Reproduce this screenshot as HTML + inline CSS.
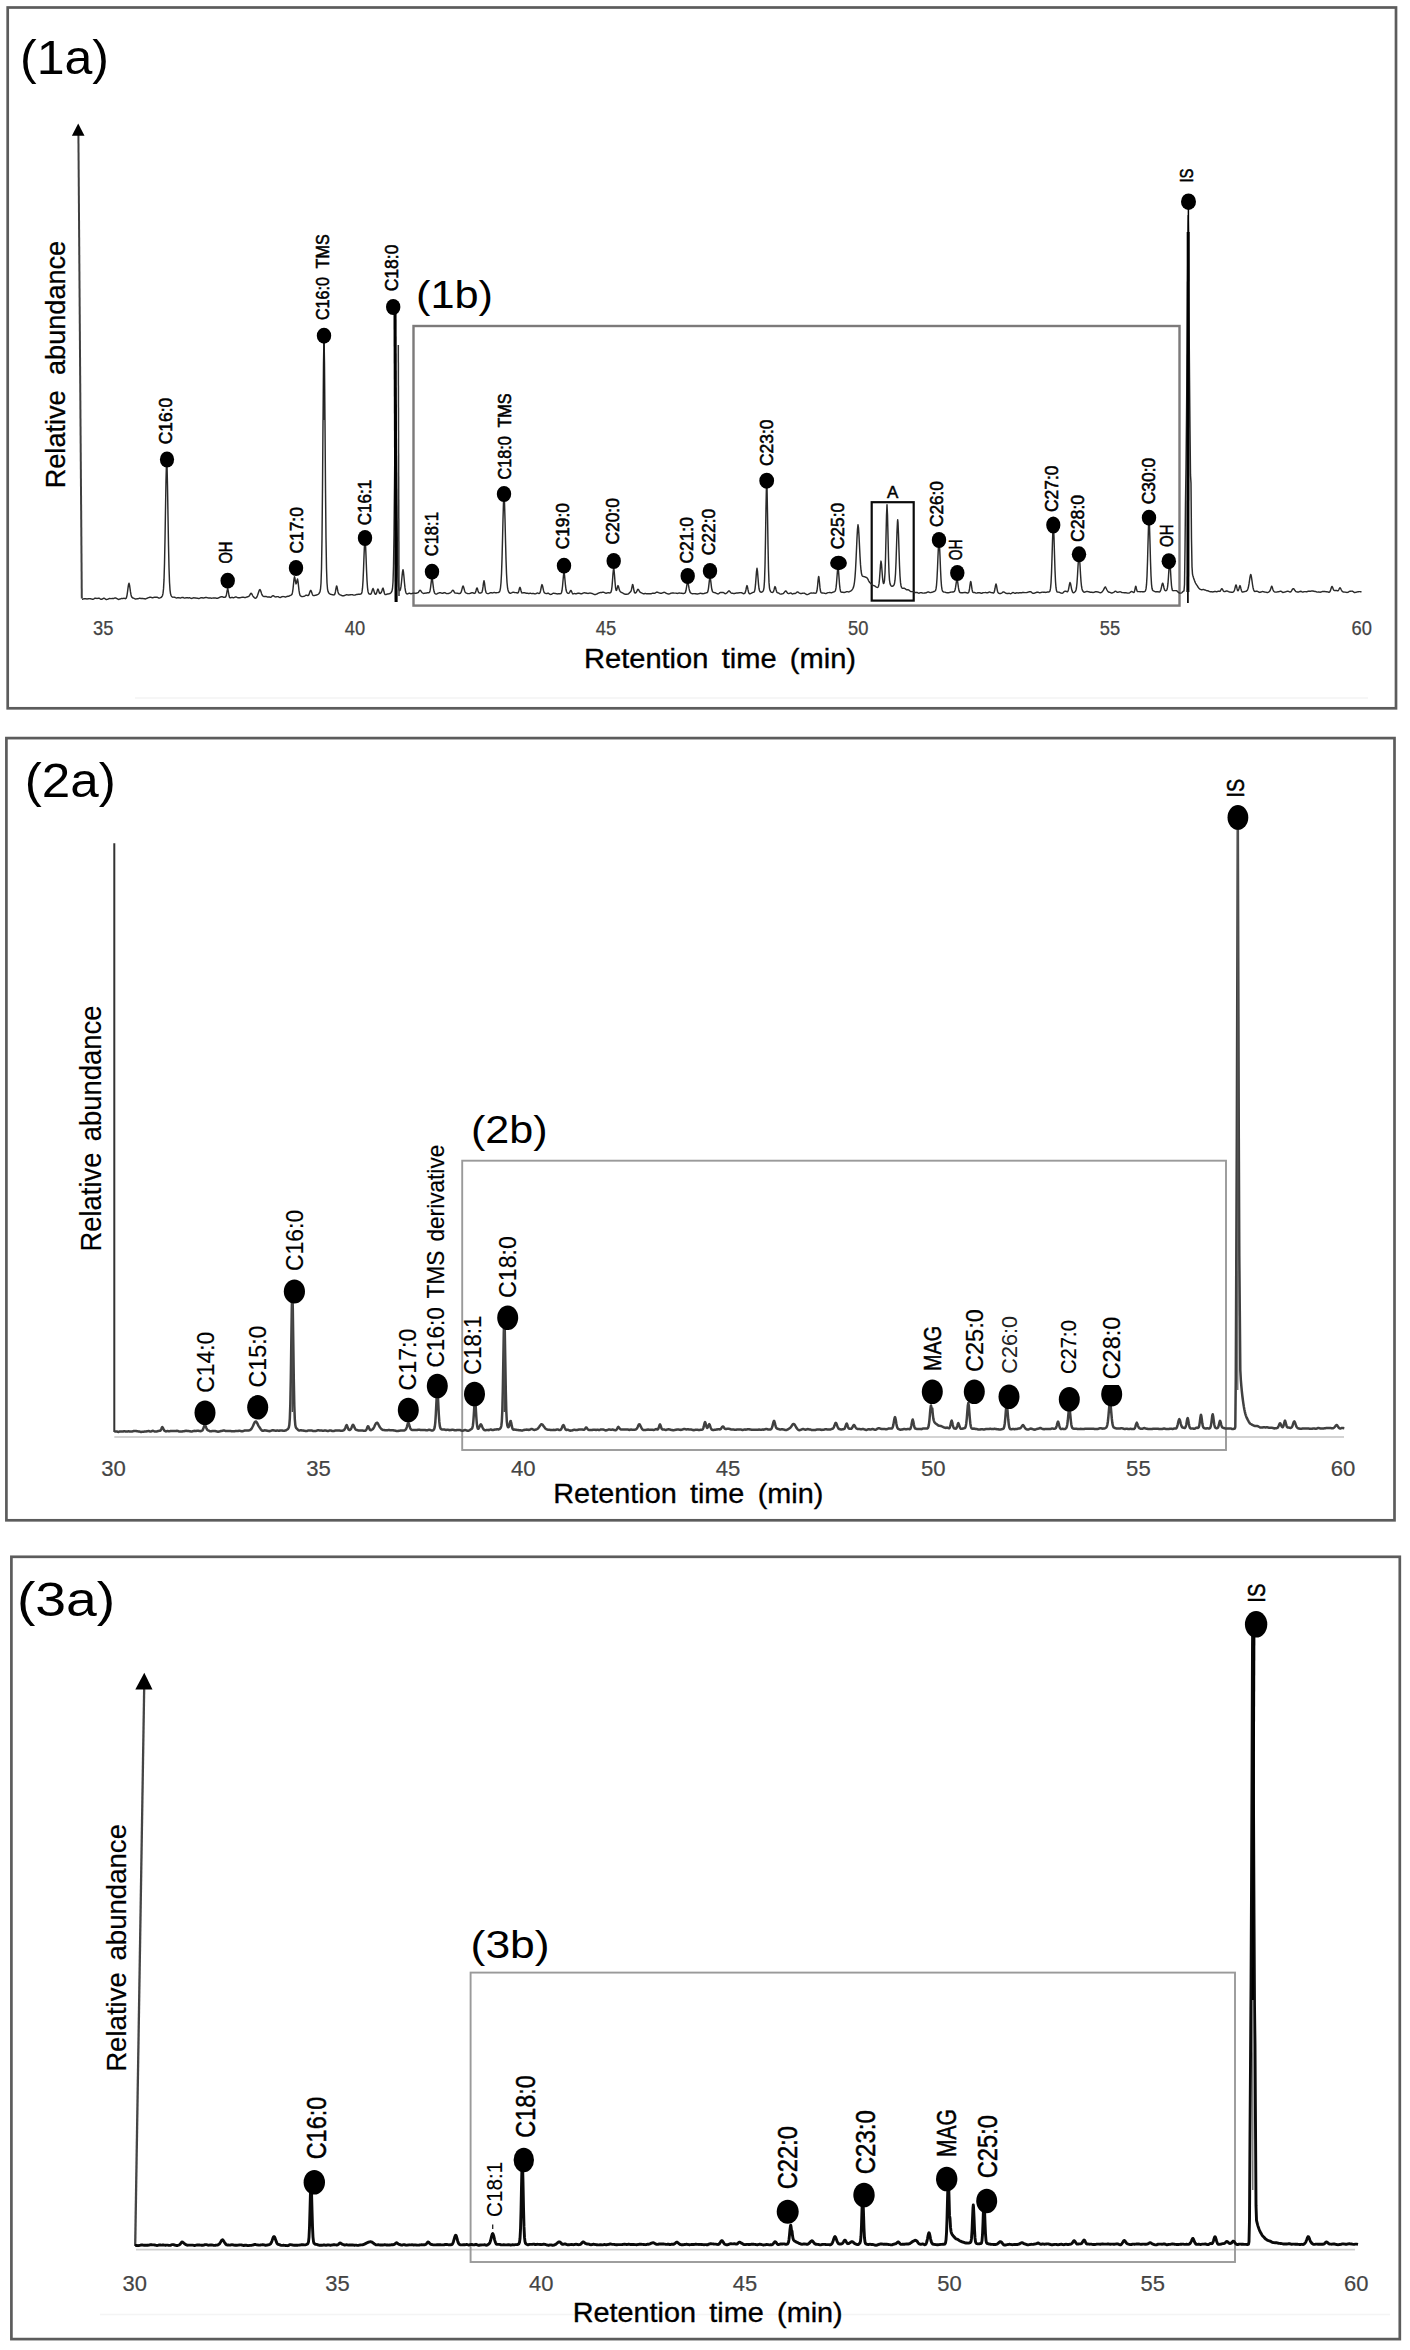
<!DOCTYPE html>
<html><head><meta charset="utf-8"><title>Chromatograms</title>
<style>html,body{margin:0;padding:0;background:#fff}svg{display:block}.t{font-family:"Liberation Sans",sans-serif}</style></head>
<body><svg width="1410" height="2350" viewBox="0 0 1410 2350">
<rect x="0" y="0" width="1410" height="2350" fill="#fff"/>
<rect x="7.7" y="7.5" width="1388.3" height="700.8" fill="none" stroke="#5c5c5c" stroke-width="2.7"/>
<line x1="135.0" y1="698.0" x2="1368.0" y2="698.0" stroke="#f3f3f3" stroke-width="1.5"/>
<text x="20.0" y="74.0" class="t" font-size="49.0" textLength="89.0" lengthAdjust="spacingAndGlyphs" fill="#000">(1a)</text>
<line x1="78.4" y1="134.0" x2="81.8" y2="598.5" stroke="#404040" stroke-width="2.0"/>
<polygon points="78.2,123.4 71.9,135.8 84.5,135.8" fill="#000"/>
<text transform="translate(64.7 488.3) rotate(-90)" class="t" font-size="28.0" textLength="247.5" lengthAdjust="spacingAndGlyphs" fill="#000" word-spacing="8.0" stroke="#000" stroke-width="0.30">Relative abundance</text>
<rect x="413.5" y="326.0" width="766.0" height="279.6" fill="none" stroke="#7c7a7a" stroke-width="2.4"/>
<text x="416.0" y="308.0" class="t" font-size="38.0" textLength="77.0" lengthAdjust="spacingAndGlyphs" fill="#000">(1b)</text>
<rect x="871.7" y="502.2" width="42.0" height="98.4" fill="none" stroke="#0a0a0a" stroke-width="2.2"/>
<text x="887.0" y="497.9" class="t" font-size="17.3" textLength="11.3" lengthAdjust="spacingAndGlyphs" fill="#000" stroke="#000" stroke-width="0.50">A</text>
<path d="M82.0 599.3L82.5 599.2L83.0 599.1L83.5 598.9L84.0 598.8L84.5 598.7L85.0 598.7L85.5 598.7L86.0 598.8L86.5 598.9L87.0 598.9L87.5 598.9L88.0 598.8L88.5 598.7L89.0 598.6L89.5 598.6L90.0 598.7L90.5 598.8L91.0 598.9L91.5 599.0L92.0 599.1L92.5 599.2L93.0 599.2L93.5 599.1L94.0 598.8L94.5 598.4L95.0 598.2L95.5 598.2L96.0 598.3L96.5 598.4L97.0 598.5L97.5 598.4L98.0 598.3L98.5 598.1L99.0 598.1L99.5 598.3L100.0 598.7L100.5 599.1L101.0 599.3L101.5 599.3L102.0 599.2L102.5 598.9L103.0 598.6L103.5 598.3L104.0 598.2L104.5 598.4L105.0 598.7L105.5 599.1L106.0 599.4L106.5 599.4L107.0 599.4L107.5 599.3L108.0 599.1L108.5 598.8L109.0 598.6L109.5 598.5L110.0 598.5L110.5 598.6L111.0 598.6L111.5 598.6L112.0 598.5L112.5 598.5L113.0 598.5L113.5 598.5L114.0 598.3L114.5 598.1L115.0 597.9L115.5 597.9L116.0 598.1L116.5 598.4L117.0 598.7L117.5 599.0L118.0 599.2L118.5 599.4L119.0 599.4L119.5 599.2L120.0 599.0L120.5 598.8L121.0 598.6L121.5 598.5L122.0 598.5L122.5 598.6L123.0 598.5L123.5 598.4L124.0 598.3L124.5 598.4L125.0 598.6L125.5 598.7L126.0 598.4L126.5 597.4L127.0 595.3L127.5 592.0L128.0 588.1L128.5 584.7L129.0 583.3L129.5 584.9L130.0 588.3L130.5 591.9L131.0 594.7L131.5 596.5L132.0 597.3L132.5 597.8L133.0 598.0L133.5 598.2L134.0 598.4L134.5 598.6L135.0 598.8L135.5 599.0L136.0 599.0L136.5 598.9L137.0 598.8L137.5 598.8L138.0 598.7L138.5 598.6L139.0 598.4L139.5 598.3L140.0 598.3L140.5 598.4L141.0 598.4L141.5 598.5L142.0 598.5L142.5 598.5L143.0 598.5L143.5 598.6L144.0 598.7L144.5 598.8L145.0 598.9L145.5 598.9L146.0 598.7L146.5 598.5L147.0 598.3L147.5 598.0L148.0 597.8L148.5 597.6L149.0 597.5L149.5 597.3L150.0 597.2L150.5 597.2L151.0 597.4L151.5 597.5L152.0 597.7L152.5 597.7L153.0 597.6L153.5 597.4L154.0 597.4L154.5 597.3L155.0 597.3L155.5 597.3L156.0 597.2L156.5 597.2L157.0 597.2L157.5 597.4L158.0 597.7L158.5 598.0L159.0 598.1L159.5 598.1L160.0 597.9L160.5 597.7L161.0 597.5L161.5 597.1L162.0 596.5L162.5 595.5L163.0 593.4L163.5 588.9L164.0 579.9L164.5 563.8L165.0 539.5L165.5 509.3L166.0 480.3L166.5 462.0L166.7 459.6L167.0 464.6L167.5 485.8L168.0 515.7L168.5 545.0L169.0 567.6L169.5 582.0L170.0 589.8L170.5 593.6L171.0 595.3L171.5 596.2L172.0 596.7L172.5 597.1L173.0 597.2L173.5 597.1L174.0 597.1L174.5 597.2L175.0 597.4L175.5 597.7L176.0 597.9L176.5 598.0L177.0 597.9L177.5 597.8L178.0 597.7L178.5 597.6L179.0 597.7L179.5 597.9L180.0 598.0L180.5 598.0L181.0 597.9L181.5 597.7L182.0 597.5L182.5 597.4L183.0 597.5L183.5 597.7L184.0 598.0L184.5 598.1L185.0 598.1L185.5 597.9L186.0 597.8L186.5 597.7L187.0 597.8L187.5 597.8L188.0 597.9L188.5 597.9L189.0 597.8L189.5 597.8L190.0 597.9L190.5 598.1L191.0 598.3L191.5 598.4L192.0 598.4L192.5 598.2L193.0 598.0L193.5 597.8L194.0 597.8L194.5 597.9L195.0 597.9L195.5 598.0L196.0 598.0L196.5 598.1L197.0 598.2L197.5 598.3L198.0 598.4L198.5 598.5L199.0 598.5L199.5 598.4L200.0 598.2L200.5 597.9L201.0 597.8L201.5 597.7L202.0 597.7L202.5 597.8L203.0 598.0L203.5 598.0L204.0 597.9L204.5 597.8L205.0 597.7L205.5 597.5L206.0 597.4L206.5 597.5L207.0 597.6L207.5 597.8L208.0 597.9L208.5 598.0L209.0 597.9L209.5 597.9L210.0 597.9L210.5 598.0L211.0 598.1L211.5 598.2L212.0 598.1L212.5 598.1L213.0 598.0L213.5 598.0L214.0 598.0L214.5 597.9L215.0 597.9L215.5 598.0L216.0 598.1L216.5 598.2L217.0 598.2L217.5 598.2L218.0 598.1L218.5 598.0L219.0 597.7L219.5 597.5L220.0 597.2L220.5 597.0L221.0 596.8L221.5 596.7L222.0 596.7L222.5 596.8L223.0 597.0L223.5 597.3L224.0 597.4L224.5 597.3L225.0 597.2L225.5 597.0L226.0 596.2L226.5 594.4L227.0 591.5L227.5 589.1L227.7 588.8L228.0 589.6L228.5 592.5L229.0 595.5L229.5 597.3L230.0 597.8L230.5 597.8L231.0 597.6L231.5 597.4L232.0 597.4L232.5 597.5L233.0 597.7L233.5 597.7L234.0 597.6L234.5 597.4L235.0 597.1L235.5 597.0L236.0 597.0L236.5 597.2L237.0 597.4L237.5 597.6L238.0 597.7L238.5 597.8L239.0 597.9L239.5 597.8L240.0 597.7L240.5 597.6L241.0 597.5L241.5 597.4L242.0 597.3L242.5 597.2L243.0 597.2L243.5 597.3L244.0 597.4L244.5 597.5L245.0 597.6L245.5 597.5L246.0 597.4L246.5 597.2L247.0 597.0L247.5 596.8L248.0 596.7L248.5 596.5L249.0 596.2L249.5 595.6L250.0 594.7L250.5 593.8L251.0 593.2L251.5 593.5L252.0 594.3L252.5 595.3L253.0 596.1L253.5 596.8L254.0 597.4L254.5 597.8L255.0 598.1L255.5 598.2L256.0 598.1L256.5 597.6L257.0 596.7L257.5 595.5L258.0 594.1L258.5 592.6L259.0 591.1L259.5 589.9L260.0 589.6L260.5 590.4L261.0 591.8L261.5 593.4L262.0 594.7L262.5 595.6L263.0 596.1L263.5 596.4L264.0 596.6L264.5 596.5L265.0 596.5L265.5 596.4L266.0 596.5L266.5 596.7L267.0 596.9L267.5 597.0L268.0 596.9L268.5 596.9L269.0 596.9L269.5 597.0L270.0 597.2L270.5 597.3L271.0 597.1L271.5 596.8L272.0 596.3L272.5 595.9L273.0 595.7L273.5 595.8L274.0 596.1L274.5 596.5L275.0 596.8L275.5 596.9L276.0 596.9L276.5 596.8L277.0 596.6L277.5 596.6L278.0 596.6L278.5 596.9L279.0 597.2L279.5 597.4L280.0 597.5L280.5 597.5L281.0 597.2L281.5 597.0L282.0 596.7L282.5 596.6L283.0 596.5L283.5 596.6L284.0 596.6L284.5 596.8L285.0 596.9L285.5 596.9L286.0 596.9L286.5 596.7L287.0 596.5L287.5 596.3L288.0 596.2L288.5 596.2L289.0 596.1L289.5 595.8L290.0 595.5L290.5 595.3L291.0 595.1L291.5 594.8L292.0 594.2L292.5 592.4L293.0 589.0L293.5 584.1L294.0 579.2L294.5 576.7L295.0 578.5L295.5 581.9L296.0 583.9L296.5 583.0L297.0 580.4L297.5 579.0L298.0 581.4L298.5 585.9L299.0 590.4L299.5 593.5L300.0 595.2L300.5 595.9L301.0 596.2L301.5 596.5L302.0 596.6L302.5 596.6L303.0 596.5L303.5 596.4L304.0 596.3L304.5 596.1L305.0 595.8L305.5 595.4L306.0 595.3L306.5 595.2L307.0 595.3L307.5 595.5L308.0 595.5L308.5 595.3L309.0 594.5L309.5 593.1L310.0 591.6L310.5 590.5L310.7 590.4L311.0 590.6L311.5 591.8L312.0 593.3L312.5 594.6L313.0 595.3L313.5 595.6L314.0 595.6L314.5 595.5L315.0 595.4L315.5 595.3L316.0 595.2L316.5 595.0L317.0 594.8L317.5 594.6L318.0 594.4L318.5 594.0L319.0 593.5L319.5 592.7L320.0 591.6L320.5 589.2L321.0 583.2L321.5 568.6L322.0 538.5L322.5 488.2L323.0 423.3L323.5 363.6L324.0 335.7L324.5 363.7L325.0 423.4L325.5 488.3L326.0 538.4L326.5 568.3L327.0 582.7L327.5 588.8L328.0 591.3L328.5 592.5L329.0 593.2L329.5 593.7L330.0 594.0L330.5 594.3L331.0 594.4L331.5 594.5L332.0 594.6L332.5 594.7L333.0 594.8L333.5 594.9L334.0 595.0L334.5 594.7L335.0 593.6L335.5 591.4L336.0 588.4L336.5 586.1L336.7 585.9L337.0 586.7L337.5 589.3L338.0 591.9L338.5 593.4L339.0 594.1L339.5 594.5L340.0 594.8L340.5 595.0L341.0 595.2L341.5 595.4L342.0 595.7L342.5 595.8L343.0 595.9L343.5 595.8L344.0 595.7L344.5 595.5L345.0 595.3L345.5 595.1L346.0 594.9L346.5 594.8L347.0 594.8L347.5 594.9L348.0 595.0L348.5 595.0L349.0 594.9L349.5 594.9L350.0 594.8L350.5 594.8L351.0 594.7L351.5 594.6L352.0 594.6L352.5 594.7L353.0 594.9L353.5 595.1L354.0 595.1L354.5 595.1L355.0 595.0L355.5 594.8L356.0 594.6L356.5 594.5L357.0 594.4L357.5 594.4L358.0 594.3L358.5 594.2L359.0 594.2L359.5 594.2L360.0 594.2L360.5 594.1L361.0 593.9L361.5 593.4L362.0 591.9L362.5 588.2L363.0 581.1L363.5 569.9L364.0 556.2L364.5 544.1L365.0 538.5L365.5 543.9L366.0 555.8L366.5 569.3L367.0 580.4L367.5 587.5L368.0 591.4L368.5 593.1L369.0 593.8L369.5 594.0L370.0 594.2L370.5 594.2L371.0 593.9L371.5 592.9L372.0 591.2L372.5 589.4L373.0 588.5L373.5 589.4L374.0 591.2L374.5 592.9L375.0 594.0L375.5 594.3L376.0 594.1L376.5 593.2L377.0 591.6L377.5 589.8L378.0 589.0L378.5 590.1L379.0 591.9L379.5 593.1L380.0 593.5L380.5 593.3L381.0 592.8L381.5 592.0L382.0 590.5L382.5 588.8L383.0 588.1L383.5 589.5L384.0 591.8L384.5 593.6L385.0 594.5L385.5 594.6L386.0 594.5L386.5 594.3L387.0 594.2L387.5 594.0L388.0 593.9L388.5 593.9L389.0 593.8L389.5 593.7L390.0 593.5L390.5 593.1L391.0 592.7L391.5 592.0L392.0 590.9L392.5 588.5L393.0 582.3L393.5 566.7L394.0 535.2L394.5 486.4L395.0 433.6L395.5 401.9L395.6 400.1L396.0 416.7L396.5 464.1L397.0 516.8L397.5 555.6L398.0 576.8L398.5 586.1L399.0 589.6L399.5 590.7L400.0 590.5L400.5 589.2L401.0 586.4L401.5 582.0L402.0 576.6L402.5 571.8L403.0 569.7L403.5 572.2L404.0 577.3L404.5 583.1L405.0 587.9L405.5 591.1L406.0 592.8L406.5 593.6L407.0 593.9L407.5 593.9L408.0 593.7L408.5 593.5L409.0 593.3L409.5 593.2L410.0 593.4L410.5 593.6L411.0 593.7L411.5 593.6L412.0 593.5L412.5 593.4L413.0 593.2L413.5 593.1L414.0 593.1L414.5 593.1L415.0 593.3L415.5 593.4L416.0 593.3L416.5 593.2L417.0 593.0L417.5 592.9L418.0 592.7L418.5 592.2L419.0 591.4L419.5 590.6L420.0 590.2L420.5 590.5L421.0 591.2L421.5 591.9L422.0 592.5L422.5 592.9L423.0 593.2L423.5 593.4L424.0 593.4L424.5 593.3L425.0 593.2L425.5 593.1L426.0 593.0L426.5 592.9L427.0 592.9L427.5 592.8L428.0 592.8L428.5 592.8L429.0 592.7L429.5 592.3L430.0 590.9L430.5 588.0L431.0 583.9L431.5 579.8L432.0 577.9L432.5 580.0L433.0 584.3L433.5 588.4L434.0 591.3L434.5 592.8L435.0 593.5L435.5 593.9L436.0 594.1L436.5 594.1L437.0 593.8L437.5 593.5L438.0 593.2L438.5 593.1L439.0 592.9L439.5 592.8L440.0 592.7L440.5 592.7L441.0 592.9L441.5 593.1L442.0 593.2L442.5 593.3L443.0 593.2L443.5 593.0L444.0 592.7L444.5 592.6L445.0 592.7L445.5 593.0L446.0 593.3L446.5 593.5L447.0 593.6L447.5 593.6L448.0 593.5L448.5 593.5L449.0 593.4L449.5 593.2L450.0 592.9L450.5 592.6L451.0 592.2L451.5 591.6L452.0 590.9L452.5 590.4L453.0 590.2L453.5 590.7L454.0 591.6L454.5 592.5L455.0 593.0L455.5 593.1L456.0 593.1L456.5 593.1L457.0 593.2L457.5 593.3L458.0 593.4L458.5 593.5L459.0 593.5L459.5 593.5L460.0 593.5L460.5 593.1L461.0 592.4L461.5 591.1L462.0 589.1L462.5 587.1L463.0 586.0L463.5 586.7L464.0 588.5L464.5 590.4L465.0 591.8L465.5 592.6L466.0 592.9L466.5 593.1L467.0 593.3L467.5 593.5L468.0 593.6L468.5 593.6L469.0 593.6L469.5 593.6L470.0 593.4L470.5 593.3L471.0 593.0L471.5 592.8L472.0 592.7L472.5 592.7L473.0 592.8L473.5 593.0L474.0 593.3L474.5 593.4L475.0 593.2L475.5 592.3L476.0 590.7L476.5 588.8L477.0 587.9L477.5 588.9L478.0 590.7L478.5 592.2L479.0 592.9L479.5 593.0L480.0 593.0L480.5 592.9L481.0 592.9L481.5 592.7L482.0 592.1L482.5 590.3L483.0 586.9L483.5 582.8L484.0 580.7L484.5 582.9L485.0 587.0L485.5 590.5L486.0 592.3L486.5 593.0L487.0 593.4L487.5 593.6L488.0 593.6L488.5 593.6L489.0 593.4L489.5 593.1L490.0 592.9L490.5 592.7L491.0 592.7L491.5 592.8L492.0 592.9L492.5 592.9L493.0 592.8L493.5 592.6L494.0 592.5L494.5 592.5L495.0 592.6L495.5 592.7L496.0 592.7L496.5 592.7L497.0 592.6L497.5 592.6L498.0 592.6L498.5 592.5L499.0 592.2L499.5 591.7L500.0 590.4L500.5 587.8L501.0 582.8L501.5 573.7L502.0 559.4L502.5 540.2L503.0 519.4L503.5 502.3L504.0 494.6L504.5 502.2L505.0 519.3L505.5 540.0L506.0 559.0L506.5 573.2L507.0 582.3L507.5 587.3L508.0 590.0L508.5 591.6L509.0 592.5L509.5 593.0L510.0 593.2L510.5 593.2L511.0 593.1L511.5 592.9L512.0 592.7L512.5 592.4L513.0 592.3L513.5 592.3L514.0 592.4L514.5 592.5L515.0 592.6L515.5 592.6L516.0 592.6L516.5 592.7L517.0 592.8L517.5 593.0L518.0 592.8L518.5 592.0L519.0 590.2L519.5 588.2L520.0 587.3L520.5 588.5L521.0 590.7L521.5 592.3L522.0 593.0L522.5 592.9L523.0 592.8L523.5 592.7L524.0 592.7L524.5 592.8L525.0 592.9L525.5 593.0L526.0 593.2L526.5 593.3L527.0 593.3L527.5 593.3L528.0 593.4L528.5 593.4L529.0 593.4L529.5 593.4L530.0 593.3L530.5 593.3L531.0 593.4L531.5 593.6L532.0 593.6L532.5 593.5L533.0 593.5L533.5 593.5L534.0 593.6L534.5 593.8L535.0 593.9L535.5 593.8L536.0 593.6L536.5 593.3L537.0 593.1L537.5 593.0L538.0 593.1L538.5 593.3L539.0 593.5L539.5 593.4L540.0 592.7L540.5 591.0L541.0 588.5L541.5 585.9L542.0 584.6L542.5 585.7L543.0 588.0L543.5 590.4L544.0 592.1L544.5 592.9L545.0 593.2L545.5 593.4L546.0 593.5L546.5 593.6L547.0 593.5L547.5 593.3L548.0 593.2L548.5 593.3L549.0 593.6L549.5 594.0L550.0 594.3L550.5 594.4L551.0 594.4L551.5 594.3L552.0 594.0L552.5 593.7L553.0 593.4L553.5 593.3L554.0 593.3L554.5 593.4L555.0 593.5L555.5 593.5L556.0 593.6L556.5 593.7L557.0 593.8L557.5 593.9L558.0 593.9L558.5 593.8L559.0 593.7L559.5 593.7L560.0 593.7L560.5 593.7L561.0 593.5L561.5 592.6L562.0 590.5L562.5 586.5L563.0 580.8L563.5 575.2L564.0 572.5L564.5 574.9L565.0 580.3L565.5 585.7L566.0 589.5L566.5 591.5L567.0 592.5L567.5 593.0L568.0 593.3L568.5 593.4L569.0 593.2L569.5 592.6L570.0 591.6L570.5 590.7L571.0 590.5L571.5 591.3L572.0 592.5L572.5 593.4L573.0 593.9L573.5 593.8L574.0 593.6L574.5 593.5L575.0 593.6L575.5 593.7L576.0 593.8L576.5 593.7L577.0 593.5L577.5 593.3L578.0 593.2L578.5 593.1L579.0 593.2L579.5 593.3L580.0 593.5L580.5 593.7L581.0 593.8L581.5 593.8L582.0 593.7L582.5 593.4L583.0 593.2L583.5 593.0L584.0 592.9L584.5 592.8L585.0 592.9L585.5 592.9L586.0 593.0L586.5 593.2L587.0 593.3L587.5 593.4L588.0 593.5L588.5 593.4L589.0 593.2L589.5 593.1L590.0 593.0L590.5 593.1L591.0 593.2L591.5 593.4L592.0 593.5L592.5 593.7L593.0 593.9L593.5 594.1L594.0 594.3L594.5 594.5L595.0 594.5L595.5 594.5L596.0 594.4L596.5 594.2L597.0 594.0L597.5 593.7L598.0 593.4L598.5 593.1L599.0 592.9L599.5 592.7L600.0 592.6L600.5 592.5L601.0 592.5L601.5 592.4L602.0 592.4L602.5 592.3L603.0 592.3L603.5 592.3L604.0 592.4L604.5 592.6L605.0 592.8L605.5 593.1L606.0 593.2L606.5 593.2L607.0 593.0L607.5 592.9L608.0 592.7L608.5 592.7L609.0 592.8L609.5 592.9L610.0 592.9L610.5 592.7L611.0 592.0L611.5 590.3L612.0 586.6L612.5 580.6L613.0 573.6L613.5 568.7L613.7 568.1L614.0 569.5L614.5 575.0L615.0 581.9L615.5 587.3L616.0 590.1L616.5 590.4L617.0 588.9L617.5 586.8L618.0 585.6L618.5 586.6L619.0 588.6L619.5 590.3L620.0 591.3L620.5 591.9L621.0 592.2L621.5 592.5L622.0 592.7L622.5 592.9L623.0 593.2L623.5 593.5L624.0 593.8L624.5 594.0L625.0 594.2L625.5 594.3L626.0 594.3L626.5 594.2L627.0 594.2L627.5 594.1L628.0 594.0L628.5 593.8L629.0 593.4L629.5 592.8L630.0 592.3L630.5 591.9L631.0 591.2L631.5 589.5L632.0 586.8L632.5 584.6L632.7 584.4L633.0 585.2L633.5 587.9L634.0 590.8L634.5 592.5L635.0 593.0L635.5 593.0L636.0 592.6L636.5 591.9L637.0 590.9L637.5 589.8L638.0 589.2L638.5 589.6L639.0 590.5L639.5 591.4L640.0 592.1L640.5 592.5L641.0 592.7L641.5 592.9L642.0 593.1L642.5 593.4L643.0 593.6L643.5 593.8L644.0 593.8L644.5 593.7L645.0 593.5L645.5 593.5L646.0 593.6L646.5 593.7L647.0 593.7L647.5 593.7L648.0 593.7L648.5 593.7L649.0 593.7L649.5 593.7L650.0 593.8L650.5 593.8L651.0 593.8L651.5 593.6L652.0 593.4L652.5 593.3L653.0 593.3L653.5 593.3L654.0 593.3L654.5 593.3L655.0 593.1L655.5 592.8L656.0 592.5L656.5 592.2L657.0 592.1L657.5 592.2L658.0 592.4L658.5 592.7L659.0 592.9L659.5 593.0L660.0 593.1L660.5 593.2L661.0 593.2L661.5 593.2L662.0 593.1L662.5 592.9L663.0 592.7L663.5 592.5L664.0 592.3L664.5 592.4L665.0 592.5L665.5 592.8L666.0 593.1L666.5 593.4L667.0 593.6L667.5 593.8L668.0 593.9L668.5 594.0L669.0 594.0L669.5 593.9L670.0 593.7L670.5 593.5L671.0 593.2L671.5 593.1L672.0 593.0L672.5 593.0L673.0 593.0L673.5 593.0L674.0 593.1L674.5 593.1L675.0 593.1L675.5 593.1L676.0 593.1L676.5 593.3L677.0 593.4L677.5 593.4L678.0 593.3L678.5 593.1L679.0 593.0L679.5 593.0L680.0 593.1L680.5 593.1L681.0 593.2L681.5 593.3L682.0 593.3L682.5 593.4L683.0 593.4L683.5 593.4L684.0 593.4L684.5 593.3L685.0 593.0L685.5 592.1L686.0 590.3L686.5 587.3L687.0 584.0L687.5 581.9L687.7 581.8L688.0 582.5L688.5 585.1L689.0 588.2L689.5 590.6L690.0 592.0L690.5 592.8L691.0 593.2L691.5 593.5L692.0 593.6L692.5 593.7L693.0 593.7L693.5 593.6L694.0 593.6L694.5 593.6L695.0 593.7L695.5 593.8L696.0 593.8L696.5 593.9L697.0 593.9L697.5 594.0L698.0 593.9L698.5 593.8L699.0 593.6L699.5 593.4L700.0 593.4L700.5 593.3L701.0 593.4L701.5 593.4L702.0 593.5L702.5 593.7L703.0 593.7L703.5 593.6L704.0 593.5L704.5 593.3L705.0 593.2L705.5 593.1L706.0 592.9L706.5 592.8L707.0 592.7L707.5 592.3L708.0 591.0L708.5 588.1L709.0 583.8L709.5 579.4L710.0 577.2L710.5 579.1L711.0 583.2L711.5 587.3L712.0 590.1L712.5 591.6L713.0 592.1L713.5 592.4L714.0 592.5L714.5 592.6L715.0 592.7L715.5 592.9L716.0 593.2L716.5 593.4L717.0 593.6L717.5 593.8L718.0 593.9L718.5 593.8L719.0 593.5L719.5 593.0L720.0 592.6L720.5 592.4L721.0 592.4L721.5 592.5L722.0 592.5L722.5 592.5L723.0 592.4L723.5 592.6L724.0 592.9L724.5 593.3L725.0 593.6L725.5 593.7L726.0 593.5L726.5 593.2L727.0 592.8L727.5 592.4L728.0 591.7L728.5 591.1L729.0 590.8L729.5 591.1L730.0 591.7L730.5 592.3L731.0 592.8L731.5 593.1L732.0 593.3L732.5 593.3L733.0 593.4L733.5 593.5L734.0 593.5L734.5 593.5L735.0 593.3L735.5 593.2L736.0 593.1L736.5 593.0L737.0 592.9L737.5 592.9L738.0 592.9L738.5 592.9L739.0 592.8L739.5 592.7L740.0 592.6L740.5 592.6L741.0 592.7L741.5 592.8L742.0 592.9L742.5 593.2L743.0 593.5L743.5 593.7L744.0 593.7L744.5 593.4L745.0 592.9L745.5 591.6L746.0 589.5L746.5 586.9L747.0 585.6L747.5 587.1L748.0 589.7L748.5 592.0L749.0 593.2L749.5 593.7L750.0 593.8L750.5 593.6L751.0 593.4L751.5 593.1L752.0 592.8L752.5 592.6L753.0 592.4L753.5 592.3L754.0 592.1L754.5 591.3L755.0 589.1L755.5 584.7L756.0 578.1L756.5 571.5L757.0 568.3L757.5 571.4L758.0 577.8L758.5 584.1L759.0 588.5L759.5 590.7L760.0 591.6L760.5 592.0L761.0 592.2L761.5 592.2L762.0 592.0L762.5 591.7L763.0 591.1L763.5 590.1L764.0 587.6L764.5 580.9L765.0 565.6L765.5 539.1L766.0 506.8L766.5 483.5L766.7 480.2L767.0 486.4L767.5 512.7L768.0 544.7L768.5 569.0L769.0 582.4L769.5 588.1L770.0 590.3L770.5 591.4L771.0 592.0L771.5 592.3L772.0 592.4L772.5 592.4L773.0 592.2L773.5 591.5L774.0 589.9L774.5 587.8L775.0 586.6L775.5 587.4L776.0 589.5L776.5 591.3L777.0 592.4L777.5 592.8L778.0 592.9L778.5 593.0L779.0 593.2L779.5 593.6L780.0 593.9L780.5 594.1L781.0 594.1L781.5 594.0L782.0 593.9L782.5 593.8L783.0 593.6L783.5 593.3L784.0 592.8L784.5 592.1L785.0 591.5L785.5 591.0L786.0 591.0L786.5 591.6L787.0 592.3L787.5 593.0L788.0 593.4L788.5 593.6L789.0 593.5L789.5 593.4L790.0 593.1L790.5 593.0L791.0 593.0L791.5 593.4L792.0 593.8L792.5 594.0L793.0 593.9L793.5 593.7L794.0 593.5L794.5 593.4L795.0 593.5L795.5 593.3L796.0 593.0L796.5 592.5L797.0 592.1L797.5 591.9L798.0 592.1L798.5 592.4L799.0 592.8L799.5 593.1L800.0 593.3L800.5 593.5L801.0 593.5L801.5 593.5L802.0 593.4L802.5 593.3L803.0 593.2L803.5 593.1L804.0 593.1L804.5 593.2L805.0 593.5L805.5 593.9L806.0 594.2L806.5 594.5L807.0 594.6L807.5 594.6L808.0 594.4L808.5 594.1L809.0 593.9L809.5 593.6L810.0 593.3L810.5 593.1L811.0 593.0L811.5 593.0L812.0 593.1L812.5 593.1L813.0 593.0L813.5 593.0L814.0 593.0L814.5 593.1L815.0 593.2L815.5 593.2L816.0 593.0L816.5 592.3L817.0 590.5L817.5 586.6L818.0 581.2L818.5 576.9L818.7 576.4L819.0 577.7L819.5 582.6L820.0 587.9L820.5 591.1L821.0 592.5L821.5 592.9L822.0 593.0L822.5 593.0L823.0 593.0L823.5 593.1L824.0 593.1L824.5 593.3L825.0 593.4L825.5 593.6L826.0 593.5L826.5 593.3L827.0 593.0L827.5 592.8L828.0 592.6L828.5 592.6L829.0 592.6L829.5 592.5L830.0 592.5L830.5 592.6L831.0 592.7L831.5 592.7L832.0 592.6L832.5 592.4L833.0 592.2L833.5 592.0L834.0 591.8L834.5 591.6L835.0 591.3L835.5 590.3L836.0 587.9L836.5 583.3L837.0 576.7L837.5 570.2L838.0 567.1L838.5 570.5L839.0 577.3L839.5 584.1L840.0 588.7L840.5 591.1L841.0 592.0L841.5 592.2L842.0 592.2L842.5 592.3L843.0 592.3L843.5 592.4L844.0 592.4L844.5 592.4L845.0 592.3L845.5 592.1L846.0 591.9L846.5 591.7L847.0 591.6L847.5 591.6L848.0 591.8L848.5 591.9L849.0 591.9L849.5 591.7L850.0 591.4L850.5 591.1L851.0 590.8L851.5 590.5L852.0 589.9L852.5 589.2L853.0 588.3L853.5 587.1L854.0 585.1L854.5 582.0L855.0 577.1L855.5 570.0L856.0 560.4L856.5 549.2L857.0 537.9L857.5 529.0L858.0 524.8L858.5 527.9L859.0 535.7L859.5 545.9L860.0 556.1L860.5 564.4L861.0 570.2L861.5 573.6L862.0 575.3L862.5 576.1L863.0 576.4L863.5 576.5L864.0 576.6L864.5 576.7L865.0 576.9L865.5 577.2L866.0 577.3L866.5 577.5L867.0 577.9L867.5 578.5L868.0 579.4L868.5 580.5L869.0 581.5L869.5 582.2L870.0 582.8L870.5 583.2L871.0 583.7L871.5 584.2L872.0 584.7L872.5 585.0L873.0 585.3L873.5 585.5L874.0 585.6L874.5 585.8L875.0 586.1L875.5 586.5L876.0 586.9L876.5 587.2L877.0 587.4L877.5 587.5L878.0 587.2L878.5 586.2L879.0 583.9L879.5 579.1L880.0 572.1L880.5 564.9L881.0 561.1L881.5 564.0L882.0 570.7L882.5 577.3L883.0 581.7L883.5 583.5L884.0 583.2L884.5 580.3L885.0 573.0L885.5 558.5L886.0 537.1L886.5 515.5L887.0 504.8L887.5 514.8L888.0 535.9L888.5 557.4L889.0 572.3L889.5 580.1L890.0 583.5L890.5 584.9L891.0 585.7L891.5 586.1L892.0 586.3L892.5 586.2L893.0 586.0L893.5 585.6L894.0 584.9L894.5 583.5L895.0 580.2L895.5 573.7L896.0 562.5L896.5 547.3L897.0 531.6L897.5 521.4L897.7 519.8L898.0 522.5L898.5 534.3L899.0 550.4L899.5 565.3L900.0 576.0L900.5 582.4L901.0 585.7L901.5 587.3L902.0 588.0L902.5 588.3L903.0 588.4L903.5 588.3L904.0 588.3L904.5 588.3L905.0 588.6L905.5 589.0L906.0 589.4L906.5 589.8L907.0 589.9L907.5 589.8L908.0 589.8L908.5 589.9L909.0 590.2L909.5 590.6L910.0 591.0L910.5 591.3L911.0 591.5L911.5 591.6L912.0 591.6L912.5 591.6L913.0 591.6L913.5 591.8L914.0 592.0L914.5 592.3L915.0 592.5L915.5 592.5L916.0 592.4L916.5 592.4L917.0 592.4L917.5 592.6L918.0 592.9L918.5 593.1L919.0 593.2L919.5 593.0L920.0 592.8L920.5 592.6L921.0 592.6L921.5 592.7L922.0 592.9L922.5 593.0L923.0 593.1L923.5 593.1L924.0 593.1L924.5 593.0L925.0 592.9L925.5 592.9L926.0 592.8L926.5 592.7L927.0 592.4L927.5 592.1L928.0 591.9L928.5 591.9L929.0 592.1L929.5 592.4L930.0 592.6L930.5 592.6L931.0 592.5L931.5 592.4L932.0 592.2L932.5 592.1L933.0 592.0L933.5 591.7L934.0 591.5L934.5 591.3L935.0 591.0L935.5 590.5L936.0 588.9L936.5 585.3L937.0 578.5L937.5 568.3L938.0 555.9L938.5 544.9L939.0 539.9L939.5 545.1L940.0 556.3L940.5 569.0L941.0 579.4L941.5 586.0L942.0 589.4L942.5 591.0L943.0 591.7L943.5 592.0L944.0 592.1L944.5 592.1L945.0 592.1L945.5 592.3L946.0 592.5L946.5 592.6L947.0 592.8L947.5 592.8L948.0 592.8L948.5 592.7L949.0 592.6L949.5 592.5L950.0 592.3L950.5 592.2L951.0 592.1L951.5 592.1L952.0 592.0L952.5 592.0L953.0 591.9L953.5 591.9L954.0 591.7L954.5 591.2L955.0 590.0L955.5 587.7L956.0 584.3L956.5 580.8L957.0 579.0L957.5 580.7L958.0 584.3L958.5 587.9L959.0 590.6L959.5 592.0L960.0 592.5L960.5 592.7L961.0 592.8L961.5 592.7L962.0 592.7L962.5 592.8L963.0 592.7L963.5 592.6L964.0 592.5L964.5 592.4L965.0 592.4L965.5 592.5L966.0 592.7L966.5 592.8L967.0 592.9L967.5 592.9L968.0 592.9L968.5 592.6L969.0 591.5L969.5 588.9L970.0 585.0L970.5 581.9L970.7 581.4L971.0 582.2L971.5 585.6L972.0 589.2L972.5 591.5L973.0 592.4L973.5 592.6L974.0 592.5L974.5 592.5L975.0 592.6L975.5 592.9L976.0 593.1L976.5 593.1L977.0 593.0L977.5 592.8L978.0 592.7L978.5 592.7L979.0 592.7L979.5 592.7L980.0 592.8L980.5 593.0L981.0 593.2L981.5 593.3L982.0 593.2L982.5 593.0L983.0 592.7L983.5 592.6L984.0 592.6L984.5 592.6L985.0 592.6L985.5 592.5L986.0 592.6L986.5 592.7L987.0 592.8L987.5 592.8L988.0 592.7L988.5 592.4L989.0 592.1L989.5 592.0L990.0 592.1L990.5 592.3L991.0 592.5L991.5 592.6L992.0 592.7L992.5 592.7L993.0 592.9L993.5 592.9L994.0 592.4L994.5 591.1L995.0 588.5L995.5 585.5L996.0 583.9L996.5 585.5L997.0 588.6L997.5 591.2L998.0 592.6L998.5 593.1L999.0 593.3L999.5 593.5L1000.0 593.5L1000.5 593.5L1001.0 593.3L1001.5 593.1L1002.0 592.8L1002.5 592.4L1003.0 592.0L1003.5 591.9L1004.0 592.0L1004.5 592.3L1005.0 592.7L1005.5 593.0L1006.0 593.3L1006.5 593.4L1007.0 593.4L1007.5 593.5L1008.0 593.4L1008.5 593.4L1009.0 593.3L1009.5 593.4L1010.0 593.6L1010.5 593.7L1011.0 593.6L1011.5 593.4L1012.0 593.0L1012.5 592.6L1013.0 592.5L1013.5 592.6L1014.0 592.8L1014.5 593.1L1015.0 593.3L1015.5 593.3L1016.0 593.0L1016.5 592.8L1017.0 592.8L1017.5 592.9L1018.0 593.0L1018.5 593.0L1019.0 592.8L1019.5 592.7L1020.0 592.7L1020.5 592.8L1021.0 592.8L1021.5 592.8L1022.0 592.7L1022.5 592.5L1023.0 592.4L1023.5 592.4L1024.0 592.5L1024.5 592.6L1025.0 592.6L1025.5 592.6L1026.0 592.6L1026.5 592.6L1027.0 592.5L1027.5 592.4L1028.0 592.1L1028.5 592.0L1029.0 591.8L1029.5 591.7L1030.0 591.7L1030.5 591.7L1031.0 591.9L1031.5 592.3L1032.0 592.7L1032.5 593.1L1033.0 593.3L1033.5 593.4L1034.0 593.3L1034.5 593.1L1035.0 592.9L1035.5 592.7L1036.0 592.6L1036.5 592.3L1037.0 592.2L1037.5 592.1L1038.0 592.2L1038.5 592.4L1039.0 592.6L1039.5 592.7L1040.0 592.7L1040.5 592.6L1041.0 592.5L1041.5 592.4L1042.0 592.2L1042.5 592.1L1043.0 592.1L1043.5 592.2L1044.0 592.2L1044.5 592.3L1045.0 592.3L1045.5 592.4L1046.0 592.4L1046.5 592.3L1047.0 592.1L1047.5 592.0L1048.0 592.0L1048.5 592.0L1049.0 592.0L1049.5 591.7L1050.0 590.8L1050.5 588.4L1051.0 583.1L1051.5 573.1L1052.0 558.1L1052.5 540.9L1053.0 527.9L1053.3 524.8L1053.5 526.3L1054.0 537.5L1054.5 554.4L1055.0 570.3L1055.5 581.4L1056.0 587.7L1056.5 590.6L1057.0 591.8L1057.5 592.1L1058.0 592.1L1058.5 592.1L1059.0 592.2L1059.5 592.4L1060.0 592.6L1060.5 592.8L1061.0 593.0L1061.5 593.1L1062.0 593.2L1062.5 593.1L1063.0 592.8L1063.5 592.3L1064.0 591.8L1064.5 591.4L1065.0 591.3L1065.5 591.2L1066.0 591.3L1066.5 591.5L1067.0 591.7L1067.5 591.7L1068.0 591.1L1068.5 589.4L1069.0 586.8L1069.5 584.1L1070.0 582.5L1070.5 583.5L1071.0 585.9L1071.5 588.6L1072.0 590.6L1072.5 591.9L1073.0 592.6L1073.5 592.7L1074.0 592.6L1074.5 592.2L1075.0 591.8L1075.5 591.2L1076.0 590.0L1076.5 587.5L1077.0 582.8L1077.5 575.5L1078.0 566.5L1078.5 558.4L1079.0 554.4L1079.5 557.6L1080.0 565.2L1080.5 574.0L1081.0 581.3L1081.5 586.2L1082.0 588.9L1082.5 590.4L1083.0 591.3L1083.5 591.9L1084.0 592.2L1084.5 592.2L1085.0 592.0L1085.5 591.8L1086.0 591.6L1086.5 591.5L1087.0 591.4L1087.5 591.5L1088.0 591.6L1088.5 591.7L1089.0 591.8L1089.5 592.0L1090.0 592.2L1090.5 592.3L1091.0 592.3L1091.5 592.3L1092.0 592.3L1092.5 592.4L1093.0 592.4L1093.5 592.4L1094.0 592.3L1094.5 592.1L1095.0 591.8L1095.5 591.7L1096.0 591.7L1096.5 591.7L1097.0 591.8L1097.5 591.9L1098.0 591.9L1098.5 592.1L1099.0 592.3L1099.5 592.5L1100.0 592.6L1100.5 592.7L1101.0 592.6L1101.5 592.3L1102.0 591.9L1102.5 591.4L1103.0 590.7L1103.5 589.9L1104.0 588.9L1104.5 587.9L1105.0 587.2L1105.5 587.0L1105.7 587.3L1106.0 588.0L1106.5 589.0L1107.0 590.0L1107.5 590.9L1108.0 591.5L1108.5 592.0L1109.0 592.2L1109.5 592.3L1110.0 592.4L1110.5 592.6L1111.0 592.8L1111.5 593.0L1112.0 593.0L1112.5 592.9L1113.0 592.6L1113.5 592.4L1114.0 592.1L1114.5 591.7L1115.0 591.4L1115.5 591.3L1116.0 591.4L1116.5 591.8L1117.0 592.1L1117.5 592.3L1118.0 592.2L1118.5 592.1L1119.0 592.0L1119.5 591.9L1120.0 591.8L1120.5 591.9L1121.0 592.0L1121.5 592.3L1122.0 592.5L1122.5 592.6L1123.0 592.6L1123.5 592.6L1124.0 592.7L1124.5 592.7L1125.0 592.7L1125.5 592.8L1126.0 592.8L1126.5 592.9L1127.0 593.0L1127.5 593.1L1128.0 593.1L1128.5 593.1L1129.0 593.0L1129.5 592.8L1130.0 592.5L1130.5 592.1L1131.0 591.7L1131.5 591.5L1132.0 591.6L1132.5 591.9L1133.0 592.2L1133.5 592.4L1134.0 592.4L1134.5 591.4L1135.0 589.1L1135.5 586.7L1135.7 586.2L1136.0 586.6L1136.5 589.0L1137.0 590.9L1137.5 591.6L1138.0 591.6L1138.5 591.6L1139.0 591.6L1139.5 591.6L1140.0 591.7L1140.5 591.7L1141.0 591.6L1141.5 591.6L1142.0 591.7L1142.5 591.8L1143.0 591.9L1143.5 591.8L1144.0 591.7L1144.5 591.6L1145.0 591.3L1145.5 590.6L1146.0 588.9L1146.5 584.7L1147.0 576.2L1147.5 562.0L1148.0 543.5L1148.5 526.3L1149.0 518.2L1149.5 525.9L1150.0 542.8L1150.5 561.2L1151.0 575.5L1151.5 584.1L1152.0 588.3L1152.5 590.0L1153.0 590.7L1153.5 590.9L1154.0 591.2L1154.5 591.4L1155.0 591.6L1155.5 591.8L1156.0 591.9L1156.5 591.8L1157.0 591.7L1157.5 591.7L1158.0 591.7L1158.5 591.9L1159.0 592.0L1159.5 592.0L1160.0 591.6L1160.5 590.7L1161.0 589.2L1161.5 587.1L1162.0 584.7L1162.5 583.1L1162.7 583.1L1163.0 583.7L1163.5 585.7L1164.0 588.0L1164.5 589.6L1165.0 590.4L1165.5 590.7L1166.0 590.7L1166.5 590.4L1167.0 589.5L1167.5 587.4L1168.0 583.2L1168.5 576.2L1169.0 568.2L1169.5 562.6L1169.7 562.1L1170.0 563.8L1170.5 570.6L1171.0 578.9L1171.5 585.5L1172.0 589.0L1172.5 590.4L1173.0 590.7L1173.5 590.6L1174.0 590.6L1174.5 590.6L1175.0 590.6L1175.5 590.6L1176.0 590.6L1176.5 590.7L1177.0 591.0L1177.5 591.4L1178.0 591.9L1178.5 592.4L1179.0 592.8L1179.5 593.0L1180.0 593.1L1180.5 593.1L1181.0 593.1L1181.5 592.9L1182.0 592.5L1182.5 592.0L1183.0 591.5L1183.5 591.1L1184.0 590.9L1184.5 584.5L1185.0 550.1L1185.5 501.8L1186.0 467.8L1186.5 419.4L1187.0 362.7L1187.5 296.2L1188.0 226.8L1188.2 215.5L1188.5 232.8L1189.0 313.3L1189.5 375.1L1190.0 429.3L1190.5 474.9L1191.0 483.1L1191.5 539.2L1192.0 566.7L1192.5 574.1L1193.0 576.0L1193.5 577.7L1194.0 579.2L1194.5 580.6L1195.0 581.9L1195.5 583.0L1196.0 583.9L1196.5 584.7L1197.0 585.4L1197.5 586.2L1198.0 587.0L1198.5 587.7L1199.0 588.3L1199.5 588.8L1200.0 589.1L1200.5 589.4L1201.0 589.6L1201.5 589.7L1202.0 589.7L1202.5 589.6L1203.0 589.5L1203.5 589.5L1204.0 589.6L1204.5 589.8L1205.0 590.0L1205.5 590.2L1206.0 590.4L1206.5 590.6L1207.0 590.7L1207.5 590.7L1208.0 590.8L1208.5 591.0L1209.0 591.3L1209.5 591.5L1210.0 591.6L1210.5 591.7L1211.0 591.7L1211.5 591.8L1212.0 591.8L1212.5 591.9L1213.0 591.9L1213.5 591.8L1214.0 591.7L1214.5 591.5L1215.0 591.4L1215.5 591.4L1216.0 591.6L1216.5 591.7L1217.0 591.7L1217.5 591.5L1218.0 591.3L1218.5 591.2L1219.0 591.3L1219.5 591.4L1220.0 591.3L1220.5 590.7L1221.0 589.7L1221.5 588.9L1221.7 588.6L1222.0 588.6L1222.5 589.3L1223.0 590.3L1223.5 591.1L1224.0 591.5L1224.5 591.6L1225.0 591.5L1225.5 591.3L1226.0 591.2L1226.5 591.0L1227.0 591.0L1227.5 591.1L1228.0 591.4L1228.5 591.7L1229.0 591.9L1229.5 592.0L1230.0 592.0L1230.5 592.1L1231.0 592.2L1231.5 592.2L1232.0 592.2L1232.5 592.2L1233.0 592.1L1233.5 591.7L1234.0 591.1L1234.5 590.0L1235.0 588.1L1235.5 586.0L1236.0 584.9L1236.5 586.1L1237.0 588.4L1237.5 590.2L1238.0 590.8L1238.5 590.1L1239.0 588.5L1239.5 586.6L1240.0 585.6L1240.5 586.8L1241.0 588.9L1241.5 590.8L1242.0 591.8L1242.5 592.1L1243.0 592.0L1243.5 591.9L1244.0 591.7L1244.5 591.6L1245.0 591.5L1245.5 591.4L1246.0 591.3L1246.5 591.1L1247.0 590.6L1247.5 589.8L1248.0 588.5L1248.5 586.6L1249.0 583.9L1249.5 580.5L1250.0 577.2L1250.5 575.0L1250.7 574.5L1251.0 574.9L1251.5 577.3L1252.0 580.9L1252.5 584.5L1253.0 587.4L1253.5 589.5L1254.0 590.7L1254.5 591.3L1255.0 591.5L1255.5 591.4L1256.0 591.2L1256.5 591.1L1257.0 591.2L1257.5 591.4L1258.0 591.6L1258.5 592.0L1259.0 592.2L1259.5 592.4L1260.0 592.3L1260.5 592.2L1261.0 592.0L1261.5 591.8L1262.0 591.6L1262.5 591.5L1263.0 591.6L1263.5 591.7L1264.0 591.9L1264.5 592.0L1265.0 592.1L1265.5 592.1L1266.0 592.2L1266.5 592.4L1267.0 592.5L1267.5 592.6L1268.0 592.4L1268.5 592.1L1269.0 591.8L1269.5 591.4L1270.0 590.8L1270.5 589.6L1271.0 587.9L1271.5 586.5L1271.7 586.2L1272.0 586.6L1272.5 588.1L1273.0 589.8L1273.5 590.9L1274.0 591.5L1274.5 591.8L1275.0 592.0L1275.5 592.1L1276.0 592.1L1276.5 592.1L1277.0 592.0L1277.5 591.9L1278.0 591.8L1278.5 591.7L1279.0 591.6L1279.5 591.5L1280.0 591.4L1280.5 591.2L1281.0 591.3L1281.5 591.5L1282.0 591.9L1282.5 592.3L1283.0 592.5L1283.5 592.4L1284.0 592.2L1284.5 592.1L1285.0 592.0L1285.5 591.9L1286.0 591.7L1286.5 591.5L1287.0 591.4L1287.5 591.3L1288.0 591.3L1288.5 591.4L1289.0 591.6L1289.5 591.8L1290.0 592.0L1290.5 592.0L1291.0 591.6L1291.5 590.9L1292.0 590.0L1292.5 589.2L1293.0 588.6L1293.5 588.6L1294.0 589.1L1294.5 589.8L1295.0 590.5L1295.5 591.2L1296.0 591.6L1296.5 591.8L1297.0 591.9L1297.5 591.9L1298.0 591.9L1298.5 591.9L1299.0 591.9L1299.5 591.7L1300.0 591.5L1300.5 591.3L1301.0 591.3L1301.5 591.5L1302.0 591.8L1302.5 592.0L1303.0 592.1L1303.5 591.9L1304.0 591.7L1304.5 591.6L1305.0 591.6L1305.5 591.6L1306.0 591.7L1306.5 591.8L1307.0 591.7L1307.5 591.5L1308.0 591.3L1308.5 591.2L1309.0 591.1L1309.5 591.2L1310.0 591.2L1310.5 591.2L1311.0 591.1L1311.5 591.0L1312.0 590.9L1312.5 590.9L1313.0 591.0L1313.5 591.2L1314.0 591.3L1314.5 591.4L1315.0 591.4L1315.5 591.5L1316.0 591.6L1316.5 591.8L1317.0 592.0L1317.5 592.1L1318.0 592.1L1318.5 592.0L1319.0 592.0L1319.5 592.1L1320.0 592.2L1320.5 592.2L1321.0 592.0L1321.5 591.8L1322.0 591.6L1322.5 591.5L1323.0 591.4L1323.5 591.4L1324.0 591.4L1324.5 591.4L1325.0 591.5L1325.5 591.6L1326.0 591.7L1326.5 591.8L1327.0 591.8L1327.5 591.9L1328.0 592.0L1328.5 592.2L1329.0 592.3L1329.5 592.1L1330.0 591.5L1330.5 590.4L1331.0 588.7L1331.5 587.2L1332.0 586.4L1332.5 587.1L1333.0 588.4L1333.5 589.7L1334.0 590.4L1334.5 590.6L1335.0 590.6L1335.5 590.5L1336.0 590.4L1336.5 590.4L1337.0 590.6L1337.5 590.8L1338.0 590.7L1338.5 590.2L1339.0 589.3L1339.5 588.2L1340.0 587.7L1340.5 588.2L1341.0 589.3L1341.5 590.3L1342.0 591.1L1342.5 591.6L1343.0 591.8L1343.5 592.0L1344.0 592.0L1344.5 592.1L1345.0 592.1L1345.5 592.1L1346.0 592.3L1346.5 592.4L1347.0 592.5L1347.5 592.4L1348.0 592.3L1348.5 592.0L1349.0 591.7L1349.5 591.4L1350.0 591.3L1350.5 591.2L1351.0 591.2L1351.5 591.1L1352.0 591.1L1352.5 591.2L1353.0 591.5L1353.5 591.9L1354.0 592.3L1354.5 592.5L1355.0 592.5L1355.5 592.4L1356.0 592.3L1356.5 592.1L1357.0 592.0L1357.5 591.9L1358.0 591.8L1358.5 591.7L1359.0 591.6L1359.5 591.6L1360.0 591.6L1360.5 591.7L1361.0 591.7L1361.5 591.7" fill="none" stroke="#2a2a2a" stroke-width="1.45" stroke-linejoin="round"/>
<line x1="324.0" y1="336.0" x2="324.0" y2="420.0" stroke="#111" stroke-width="1.2"/>
<line x1="395.0" y1="307.0" x2="396.1" y2="602.0" stroke="#000" stroke-width="3.1"/>
<line x1="398.3" y1="345.0" x2="399.0" y2="596.0" stroke="#333" stroke-width="1.5"/>
<line x1="1188.4" y1="208.0" x2="1188.4" y2="233.0" stroke="#000" stroke-width="1.5"/>
<line x1="1188.2" y1="232.0" x2="1187.9" y2="592.0" stroke="#000" stroke-width="3.0"/>
<line x1="1187.9" y1="590.0" x2="1187.9" y2="603.0" stroke="#111" stroke-width="1.8"/>
<ellipse cx="167.0" cy="459.5" rx="7.1" ry="8.0" fill="#000"/>
<ellipse cx="227.7" cy="580.7" rx="7.2" ry="8.0" fill="#000"/>
<ellipse cx="296.0" cy="568.0" rx="7.2" ry="8.0" fill="#000"/>
<ellipse cx="324.0" cy="335.7" rx="7.2" ry="8.0" fill="#000"/>
<ellipse cx="365.0" cy="538.0" rx="7.2" ry="8.0" fill="#000"/>
<ellipse cx="393.2" cy="307.0" rx="7.2" ry="8.0" fill="#000"/>
<ellipse cx="432.0" cy="571.7" rx="7.2" ry="8.0" fill="#000"/>
<ellipse cx="504.0" cy="494.0" rx="7.2" ry="8.0" fill="#000"/>
<ellipse cx="564.0" cy="565.7" rx="7.2" ry="8.0" fill="#000"/>
<ellipse cx="613.7" cy="561.0" rx="7.2" ry="8.0" fill="#000"/>
<ellipse cx="687.7" cy="576.0" rx="7.2" ry="8.0" fill="#000"/>
<ellipse cx="710.0" cy="571.0" rx="7.2" ry="8.0" fill="#000"/>
<ellipse cx="766.7" cy="480.7" rx="7.4" ry="8.0" fill="#000"/>
<ellipse cx="838.5" cy="563.0" rx="8.4" ry="7.2" fill="#000"/>
<ellipse cx="939.0" cy="540.0" rx="7.2" ry="8.0" fill="#000"/>
<ellipse cx="957.3" cy="573.0" rx="7.2" ry="8.0" fill="#000"/>
<ellipse cx="1053.3" cy="525.0" rx="7.1" ry="8.6" fill="#000"/>
<ellipse cx="1079.0" cy="554.3" rx="7.2" ry="8.0" fill="#000"/>
<ellipse cx="1149.0" cy="517.7" rx="7.2" ry="8.0" fill="#000"/>
<ellipse cx="1168.8" cy="561.2" rx="7.2" ry="8.0" fill="#000"/>
<ellipse cx="1188.5" cy="201.7" rx="7.5" ry="8.3" fill="#000"/>
<text transform="translate(171.8 444.3) rotate(-90)" class="t" font-size="18.5" textLength="46.5" lengthAdjust="spacingAndGlyphs" fill="#000" word-spacing="5.0" stroke="#000" stroke-width="0.55">C16:0</text>
<text transform="translate(231.6 563.6) rotate(-90)" class="t" font-size="18.5" textLength="22.1" lengthAdjust="spacingAndGlyphs" fill="#000" word-spacing="5.0" stroke="#000" stroke-width="0.55">OH</text>
<text transform="translate(303.3 553.6) rotate(-90)" class="t" font-size="18.5" textLength="46.5" lengthAdjust="spacingAndGlyphs" fill="#000" word-spacing="5.0" stroke="#000" stroke-width="0.55">C17:0</text>
<text transform="translate(329.3 320.1) rotate(-90)" class="t" font-size="18.5" textLength="85.8" lengthAdjust="spacingAndGlyphs" fill="#000" word-spacing="5.0" stroke="#000" stroke-width="0.55">C16:0 TMS</text>
<text transform="translate(371.0 525.3) rotate(-90)" class="t" font-size="18.5" textLength="45.5" lengthAdjust="spacingAndGlyphs" fill="#000" word-spacing="5.0" stroke="#000" stroke-width="0.55">C16:1</text>
<text transform="translate(398.3 291.3) rotate(-90)" class="t" font-size="18.5" textLength="46.7" lengthAdjust="spacingAndGlyphs" fill="#000" word-spacing="5.0" stroke="#000" stroke-width="0.55">C18:0</text>
<text transform="translate(437.6 556.3) rotate(-90)" class="t" font-size="18.5" textLength="44.2" lengthAdjust="spacingAndGlyphs" fill="#000" word-spacing="5.0" stroke="#000" stroke-width="0.55">C18:1</text>
<text transform="translate(511.0 479.6) rotate(-90)" class="t" font-size="18.5" textLength="86.3" lengthAdjust="spacingAndGlyphs" fill="#000" word-spacing="5.0" stroke="#000" stroke-width="0.55">C18:0 TMS</text>
<text transform="translate(569.3 549.3) rotate(-90)" class="t" font-size="18.5" textLength="46.2" lengthAdjust="spacingAndGlyphs" fill="#000" word-spacing="5.0" stroke="#000" stroke-width="0.55">C19:0</text>
<text transform="translate(618.6 544.6) rotate(-90)" class="t" font-size="18.5" textLength="46.5" lengthAdjust="spacingAndGlyphs" fill="#000" word-spacing="5.0" stroke="#000" stroke-width="0.55">C20:0</text>
<text transform="translate(692.6 563.6) rotate(-90)" class="t" font-size="18.5" textLength="46.5" lengthAdjust="spacingAndGlyphs" fill="#000" word-spacing="5.0" stroke="#000" stroke-width="0.55">C21:0</text>
<text transform="translate(714.9 555.3) rotate(-90)" class="t" font-size="18.5" textLength="46.5" lengthAdjust="spacingAndGlyphs" fill="#000" word-spacing="5.0" stroke="#000" stroke-width="0.55">C22:0</text>
<text transform="translate(772.5 466.0) rotate(-90)" class="t" font-size="18.5" textLength="46.5" lengthAdjust="spacingAndGlyphs" fill="#000" word-spacing="5.0" stroke="#000" stroke-width="0.55">C23:0</text>
<text transform="translate(844.2 549.3) rotate(-90)" class="t" font-size="18.5" textLength="46.5" lengthAdjust="spacingAndGlyphs" fill="#000" word-spacing="5.0" stroke="#000" stroke-width="0.55">C25:0</text>
<text transform="translate(943.2 527.0) rotate(-90)" class="t" font-size="18.5" textLength="45.9" lengthAdjust="spacingAndGlyphs" fill="#000" word-spacing="5.0" stroke="#000" stroke-width="0.55">C26:0</text>
<text transform="translate(961.5 560.3) rotate(-90)" class="t" font-size="18.5" textLength="20.8" lengthAdjust="spacingAndGlyphs" fill="#000" word-spacing="5.0" stroke="#000" stroke-width="0.55">OH</text>
<text transform="translate(1058.2 512.0) rotate(-90)" class="t" font-size="18.5" textLength="46.5" lengthAdjust="spacingAndGlyphs" fill="#000" word-spacing="5.0" stroke="#000" stroke-width="0.55">C27:0</text>
<text transform="translate(1084.2 542.0) rotate(-90)" class="t" font-size="18.5" textLength="47.2" lengthAdjust="spacingAndGlyphs" fill="#000" word-spacing="5.0" stroke="#000" stroke-width="0.55">C28:0</text>
<text transform="translate(1154.9 504.3) rotate(-90)" class="t" font-size="18.5" textLength="46.5" lengthAdjust="spacingAndGlyphs" fill="#000" word-spacing="5.0" stroke="#000" stroke-width="0.55">C30:0</text>
<text transform="translate(1173.2 547.0) rotate(-90)" class="t" font-size="18.5" textLength="22.5" lengthAdjust="spacingAndGlyphs" fill="#000" word-spacing="5.0" stroke="#000" stroke-width="0.55">OH</text>
<text transform="translate(1192.5 182.6) rotate(-90)" class="t" font-size="18.5" textLength="14.0" lengthAdjust="spacingAndGlyphs" fill="#000" word-spacing="5.0" stroke="#000" stroke-width="0.55">IS</text>
<text x="93.1" y="634.5" class="t" font-size="19.6" textLength="20.4" lengthAdjust="spacingAndGlyphs" fill="#444" stroke="#444" stroke-width="0.25">35</text>
<text x="344.8" y="634.5" class="t" font-size="19.6" textLength="20.4" lengthAdjust="spacingAndGlyphs" fill="#444" stroke="#444" stroke-width="0.25">40</text>
<text x="595.8" y="634.5" class="t" font-size="19.6" textLength="20.4" lengthAdjust="spacingAndGlyphs" fill="#444" stroke="#444" stroke-width="0.25">45</text>
<text x="848.1" y="634.5" class="t" font-size="19.6" textLength="20.4" lengthAdjust="spacingAndGlyphs" fill="#444" stroke="#444" stroke-width="0.25">50</text>
<text x="1099.8" y="634.5" class="t" font-size="19.6" textLength="20.4" lengthAdjust="spacingAndGlyphs" fill="#444" stroke="#444" stroke-width="0.25">55</text>
<text x="1351.5" y="634.5" class="t" font-size="19.6" textLength="20.4" lengthAdjust="spacingAndGlyphs" fill="#444" stroke="#444" stroke-width="0.25">60</text>
<text x="584.0" y="667.7" class="t" font-size="28.0" textLength="272.0" lengthAdjust="spacingAndGlyphs" fill="#000" word-spacing="5.0" stroke="#000" stroke-width="0.35">Retention time (min)</text>
<rect x="6.4" y="738.1" width="1388.1" height="782.2" fill="none" stroke="#5c5c5c" stroke-width="2.7"/>
<text x="24.8" y="797.3" class="t" font-size="48.0" textLength="91.0" lengthAdjust="spacingAndGlyphs" fill="#000">(2a)</text>
<line x1="114.3" y1="843.3" x2="114.3" y2="1432.0" stroke="#333" stroke-width="2.0"/>
<line x1="114.3" y1="1437.0" x2="1344.0" y2="1437.0" stroke="#c4c4c4" stroke-width="1.6"/>
<text transform="translate(101.3 1251.6) rotate(-90)" class="t" font-size="29.0" textLength="246.1" lengthAdjust="spacingAndGlyphs" fill="#000" word-spacing="4.0" stroke="#000" stroke-width="0.15">Relative abundance</text>
<rect x="462.2" y="1160.7" width="763.8" height="289.3" fill="none" stroke="#9a9a9a" stroke-width="1.9"/>
<text x="471.0" y="1143.4" class="t" font-size="38.0" textLength="76.6" lengthAdjust="spacingAndGlyphs" fill="#000">(2b)</text>
<path d="M114.3 1431.5L114.8 1431.5L115.3 1431.5L115.8 1431.4L116.3 1431.4L116.8 1431.5L117.3 1431.6L117.8 1431.8L118.3 1431.9L118.8 1431.9L119.3 1431.7L119.8 1431.5L120.3 1431.4L120.8 1431.4L121.3 1431.5L121.8 1431.6L122.3 1431.6L122.8 1431.5L123.3 1431.4L123.8 1431.3L124.3 1431.3L124.8 1431.3L125.3 1431.4L125.8 1431.4L126.3 1431.5L126.8 1431.5L127.3 1431.4L127.8 1431.4L128.3 1431.3L128.8 1431.3L129.3 1431.4L129.8 1431.4L130.3 1431.4L130.8 1431.4L131.3 1431.4L131.8 1431.4L132.3 1431.4L132.8 1431.3L133.3 1431.2L133.8 1431.0L134.3 1431.0L134.8 1430.9L135.3 1431.0L135.8 1431.0L136.3 1431.1L136.8 1431.2L137.3 1431.3L137.8 1431.3L138.3 1431.4L138.8 1431.4L139.3 1431.5L139.8 1431.6L140.3 1431.8L140.8 1431.9L141.3 1431.9L141.8 1431.8L142.3 1431.8L142.8 1431.8L143.3 1431.7L143.8 1431.7L144.3 1431.6L144.8 1431.5L145.3 1431.5L145.8 1431.4L146.3 1431.4L146.8 1431.3L147.3 1431.2L147.8 1431.2L148.3 1431.1L148.8 1431.1L149.3 1431.2L149.8 1431.4L150.3 1431.5L150.8 1431.5L151.3 1431.3L151.8 1431.1L152.3 1430.9L152.8 1430.8L153.3 1430.9L153.8 1431.1L154.3 1431.3L154.8 1431.5L155.3 1431.6L155.8 1431.6L156.3 1431.5L156.8 1431.4L157.3 1431.3L157.8 1431.2L158.3 1431.0L158.8 1430.9L159.3 1430.8L159.8 1430.8L160.3 1430.7L160.8 1430.1L161.3 1429.0L161.8 1427.8L162.3 1427.1L162.8 1427.6L163.3 1428.7L163.8 1429.8L164.3 1430.5L164.8 1430.9L165.3 1431.2L165.8 1431.4L166.3 1431.3L166.8 1431.2L167.3 1431.1L167.8 1431.1L168.3 1431.2L168.8 1431.3L169.3 1431.3L169.8 1431.2L170.3 1431.1L170.8 1431.0L171.3 1431.0L171.8 1431.0L172.3 1431.0L172.8 1430.9L173.3 1430.9L173.8 1430.9L174.3 1431.0L174.8 1431.1L175.3 1431.1L175.8 1431.0L176.3 1430.9L176.8 1430.8L177.3 1430.8L177.8 1431.0L178.3 1431.2L178.8 1431.4L179.3 1431.5L179.8 1431.5L180.3 1431.5L180.8 1431.4L181.3 1431.4L181.8 1431.4L182.3 1431.4L182.8 1431.3L183.3 1431.3L183.8 1431.3L184.3 1431.2L184.8 1431.0L185.3 1430.9L185.8 1430.8L186.3 1430.8L186.8 1430.9L187.3 1431.1L187.8 1431.1L188.3 1431.1L188.8 1431.1L189.3 1431.2L189.8 1431.2L190.3 1431.3L190.8 1431.4L191.3 1431.4L191.8 1431.4L192.3 1431.4L192.8 1431.2L193.3 1431.1L193.8 1431.0L194.3 1430.9L194.8 1430.8L195.3 1430.9L195.8 1430.9L196.3 1430.9L196.8 1430.8L197.3 1430.7L197.8 1430.7L198.3 1430.7L198.8 1430.9L199.3 1431.0L199.8 1431.1L200.3 1431.2L200.8 1431.1L201.3 1431.0L201.8 1430.8L202.3 1430.5L202.8 1429.8L203.3 1428.6L203.8 1427.1L204.3 1425.8L204.8 1425.0L205.0 1425.1L205.3 1425.5L205.8 1426.5L206.3 1427.9L206.8 1429.0L207.3 1429.8L207.8 1430.2L208.3 1430.5L208.8 1430.7L209.3 1430.9L209.8 1431.2L210.3 1431.3L210.8 1431.3L211.3 1431.3L211.8 1431.2L212.3 1431.0L212.8 1431.0L213.3 1430.9L213.8 1430.9L214.3 1430.9L214.8 1431.0L215.3 1431.1L215.8 1431.2L216.3 1431.3L216.8 1431.4L217.3 1431.6L217.8 1431.7L218.3 1431.7L218.8 1431.6L219.3 1431.5L219.8 1431.4L220.3 1431.2L220.8 1431.1L221.3 1431.0L221.8 1430.9L222.3 1430.8L222.8 1430.7L223.3 1430.6L223.8 1430.6L224.3 1430.6L224.8 1430.7L225.3 1430.9L225.8 1431.0L226.3 1431.0L226.8 1431.0L227.3 1431.0L227.8 1431.0L228.3 1431.0L228.8 1430.9L229.3 1430.9L229.8 1430.9L230.3 1431.0L230.8 1431.1L231.3 1431.2L231.8 1431.3L232.3 1431.3L232.8 1431.3L233.3 1431.3L233.8 1431.2L234.3 1431.2L234.8 1431.2L235.3 1431.1L235.8 1431.1L236.3 1431.1L236.8 1431.1L237.3 1431.1L237.8 1431.0L238.3 1430.9L238.8 1430.8L239.3 1430.8L239.8 1430.8L240.3 1430.9L240.8 1431.1L241.3 1431.2L241.8 1431.3L242.3 1431.3L242.8 1431.2L243.3 1431.0L243.8 1430.8L244.3 1430.7L244.8 1430.5L245.3 1430.5L245.8 1430.5L246.3 1430.5L246.8 1430.4L247.3 1430.4L247.8 1430.4L248.3 1430.4L248.8 1430.4L249.3 1430.3L249.8 1430.2L250.3 1429.9L250.8 1429.5L251.3 1428.9L251.8 1428.2L252.3 1427.3L252.8 1426.3L253.3 1425.2L253.8 1424.1L254.3 1423.0L254.8 1422.2L255.3 1421.7L255.7 1421.4L255.8 1421.4L256.3 1421.7L256.8 1422.4L257.3 1423.3L257.8 1424.4L258.3 1425.4L258.8 1426.3L259.3 1427.1L259.8 1427.8L260.3 1428.6L260.8 1429.3L261.3 1429.8L261.8 1430.3L262.3 1430.7L262.8 1430.8L263.3 1430.8L263.8 1430.6L264.3 1430.4L264.8 1430.3L265.3 1430.4L265.8 1430.5L266.3 1430.6L266.8 1430.7L267.3 1430.7L267.8 1430.8L268.3 1431.0L268.8 1431.1L269.3 1431.2L269.8 1431.1L270.3 1431.0L270.8 1430.8L271.3 1430.6L271.8 1430.5L272.3 1430.3L272.8 1430.3L273.3 1430.3L273.8 1430.4L274.3 1430.5L274.8 1430.6L275.3 1430.7L275.8 1430.7L276.3 1430.7L276.8 1430.6L277.3 1430.6L277.8 1430.6L278.3 1430.7L278.8 1430.8L279.3 1430.8L279.8 1430.6L280.3 1430.5L280.8 1430.4L281.3 1430.4L281.8 1430.5L282.3 1430.6L282.8 1430.7L283.3 1430.7L283.8 1430.7L284.3 1430.7L284.8 1430.7L285.3 1430.5L285.8 1430.4L286.3 1430.1L286.8 1429.8L287.3 1429.5L287.8 1429.1L288.3 1428.5L288.8 1427.5L289.3 1425.1L289.8 1418.9L290.3 1404.8L290.8 1379.1L291.3 1343.1L291.8 1308.5L292.3 1292.0L292.8 1308.8L293.3 1343.8L293.8 1379.7L294.3 1405.4L294.8 1419.1L295.3 1425.0L295.8 1427.2L296.3 1428.2L296.8 1428.7L297.3 1429.2L297.8 1429.7L298.3 1430.2L298.8 1430.4L299.3 1430.5L299.8 1430.4L300.3 1430.3L300.8 1430.3L301.3 1430.3L301.8 1430.4L302.3 1430.5L302.8 1430.6L303.3 1430.6L303.8 1430.7L304.3 1430.8L304.8 1430.8L305.3 1430.9L305.8 1430.9L306.3 1430.9L306.8 1430.9L307.3 1430.9L307.8 1430.7L308.3 1430.5L308.8 1430.4L309.3 1430.5L309.8 1430.5L310.3 1430.6L310.8 1430.5L311.3 1430.5L311.8 1430.6L312.3 1430.7L312.8 1430.9L313.3 1431.0L313.8 1431.1L314.3 1431.1L314.8 1431.1L315.3 1431.0L315.8 1430.9L316.3 1430.8L316.8 1430.6L317.3 1430.4L317.8 1430.3L318.3 1430.2L318.8 1430.3L319.3 1430.4L319.8 1430.5L320.3 1430.5L320.8 1430.5L321.3 1430.5L321.8 1430.6L322.3 1430.7L322.8 1430.8L323.3 1430.8L323.8 1430.7L324.3 1430.6L324.8 1430.6L325.3 1430.6L325.8 1430.6L326.3 1430.7L326.8 1430.8L327.3 1430.9L327.8 1431.0L328.3 1430.9L328.8 1430.8L329.3 1430.6L329.8 1430.5L330.3 1430.5L330.8 1430.5L331.3 1430.7L331.8 1430.8L332.3 1431.0L332.8 1431.1L333.3 1431.1L333.8 1431.0L334.3 1430.8L334.8 1430.7L335.3 1430.6L335.8 1430.6L336.3 1430.6L336.8 1430.6L337.3 1430.6L337.8 1430.5L338.3 1430.5L338.8 1430.4L339.3 1430.5L339.8 1430.6L340.3 1430.7L340.8 1430.7L341.3 1430.8L341.8 1430.7L342.3 1430.7L342.8 1430.6L343.3 1430.5L343.8 1430.2L344.3 1429.8L344.8 1429.1L345.3 1428.0L345.8 1426.6L346.3 1425.4L346.7 1425.1L346.8 1425.3L347.3 1426.3L347.8 1427.8L348.3 1429.0L348.8 1429.7L349.3 1430.0L349.8 1430.0L350.3 1429.7L350.8 1429.2L351.3 1428.2L351.8 1426.9L352.3 1425.7L352.8 1424.9L353.0 1424.8L353.3 1425.0L353.8 1425.8L354.3 1427.0L354.8 1428.2L355.3 1429.0L355.8 1429.6L356.3 1429.8L356.8 1430.0L357.3 1430.1L357.8 1430.3L358.3 1430.4L358.8 1430.4L359.3 1430.5L359.8 1430.5L360.3 1430.5L360.8 1430.5L361.3 1430.5L361.8 1430.6L362.3 1430.6L362.8 1430.6L363.3 1430.7L363.8 1430.7L364.3 1430.8L364.8 1430.8L365.3 1430.7L365.8 1430.4L366.3 1429.8L366.8 1428.7L367.3 1427.3L367.8 1426.3L368.0 1426.2L368.3 1426.4L368.8 1427.4L369.3 1428.7L369.8 1429.6L370.3 1430.1L370.8 1430.2L371.3 1430.1L371.8 1429.8L372.3 1429.5L372.8 1429.1L373.3 1428.5L373.8 1427.7L374.3 1426.7L374.8 1425.5L375.3 1424.5L375.8 1423.6L376.3 1423.0L376.8 1422.7L377.0 1422.7L377.3 1422.8L377.8 1423.4L378.3 1424.2L378.8 1425.2L379.3 1426.2L379.8 1427.1L380.3 1427.7L380.8 1428.3L381.3 1428.8L381.8 1429.3L382.3 1429.7L382.8 1429.9L383.3 1430.0L383.8 1430.0L384.3 1430.1L384.8 1430.2L385.3 1430.3L385.8 1430.3L386.3 1430.3L386.8 1430.3L387.3 1430.3L387.8 1430.2L388.3 1430.1L388.8 1430.0L389.3 1430.1L389.8 1430.2L390.3 1430.3L390.8 1430.3L391.3 1430.3L391.8 1430.2L392.3 1430.2L392.8 1430.3L393.3 1430.3L393.8 1430.4L394.3 1430.4L394.8 1430.6L395.3 1430.7L395.8 1430.8L396.3 1430.9L396.8 1430.9L397.3 1430.9L397.8 1430.9L398.3 1430.9L398.8 1430.8L399.3 1430.8L399.8 1430.7L400.3 1430.6L400.8 1430.5L401.3 1430.5L401.8 1430.5L402.3 1430.5L402.8 1430.6L403.3 1430.6L403.8 1430.6L404.3 1430.5L404.8 1430.2L405.3 1429.9L405.8 1429.4L406.3 1428.6L406.8 1427.1L407.3 1425.3L407.8 1423.6L408.3 1422.8L408.8 1423.5L409.3 1425.2L409.8 1427.0L410.3 1428.3L410.8 1429.2L411.3 1429.6L411.8 1429.8L412.3 1430.0L412.8 1430.0L413.3 1430.1L413.8 1430.0L414.3 1430.0L414.8 1430.0L415.3 1430.0L415.8 1430.0L416.3 1430.0L416.8 1430.0L417.3 1429.9L417.8 1429.8L418.3 1429.7L418.8 1429.7L419.3 1429.8L419.8 1429.8L420.3 1429.9L420.8 1429.9L421.3 1429.9L421.8 1429.9L422.3 1429.9L422.8 1429.9L423.3 1429.9L423.8 1429.9L424.3 1429.9L424.8 1430.0L425.3 1430.1L425.8 1430.2L426.3 1430.3L426.8 1430.3L427.3 1430.3L427.8 1430.1L428.3 1429.9L428.8 1429.8L429.3 1429.8L429.8 1429.9L430.3 1430.0L430.8 1430.2L431.3 1430.5L431.8 1430.6L432.3 1430.6L432.8 1430.5L433.3 1430.2L433.8 1429.7L434.3 1428.7L434.8 1426.6L435.3 1422.3L435.8 1414.7L436.3 1404.4L436.8 1394.7L437.3 1390.1L437.8 1394.6L438.3 1404.1L438.8 1414.2L439.3 1421.7L439.8 1425.9L440.3 1427.9L440.8 1428.8L441.3 1429.2L441.8 1429.5L442.3 1429.6L442.8 1429.6L443.3 1429.6L443.8 1429.5L444.3 1429.5L444.8 1429.7L445.3 1429.8L445.8 1429.9L446.3 1429.9L446.8 1429.8L447.3 1429.7L447.8 1429.7L448.3 1429.8L448.8 1430.0L449.3 1430.1L449.8 1430.2L450.3 1430.1L450.8 1430.0L451.3 1429.9L451.8 1429.8L452.3 1429.7L452.8 1429.8L453.3 1429.8L453.8 1430.0L454.3 1430.1L454.8 1430.3L455.3 1430.3L455.8 1430.3L456.3 1430.2L456.8 1430.1L457.3 1430.0L457.8 1429.9L458.3 1429.9L458.8 1429.9L459.3 1429.9L459.8 1430.0L460.3 1430.1L460.8 1430.3L461.3 1430.5L461.8 1430.7L462.3 1430.7L462.8 1430.7L463.3 1430.6L463.8 1430.4L464.3 1430.2L464.8 1430.1L465.3 1430.1L465.8 1430.2L466.3 1430.4L466.8 1430.6L467.3 1430.7L467.8 1430.8L468.3 1430.8L468.8 1430.6L469.3 1430.4L469.8 1430.1L470.3 1429.7L470.8 1429.4L471.3 1429.1L471.8 1428.7L472.3 1428.0L472.8 1426.0L473.3 1421.8L473.8 1414.8L474.3 1406.6L474.8 1400.7L475.0 1400.0L475.3 1401.6L475.8 1408.4L476.3 1416.7L476.8 1423.3L477.3 1427.0L477.8 1428.6L478.3 1428.8L478.8 1428.3L479.3 1427.3L479.8 1426.0L480.3 1424.9L480.8 1424.3L481.0 1424.4L481.3 1424.8L481.8 1425.8L482.3 1427.0L482.8 1428.1L483.3 1429.0L483.8 1429.6L484.3 1430.0L484.8 1430.2L485.3 1430.3L485.8 1430.2L486.3 1430.1L486.8 1430.0L487.3 1429.9L487.8 1430.0L488.3 1430.1L488.8 1430.2L489.3 1430.0L489.8 1429.8L490.3 1429.5L490.8 1429.5L491.3 1429.7L491.8 1429.8L492.3 1430.0L492.8 1430.0L493.3 1429.9L493.8 1429.8L494.3 1429.7L494.8 1429.6L495.3 1429.5L495.8 1429.5L496.3 1429.4L496.8 1429.3L497.3 1429.3L497.8 1429.3L498.3 1429.4L498.8 1429.4L499.3 1429.2L499.8 1428.9L500.3 1428.4L500.8 1427.6L501.3 1426.0L501.8 1421.6L502.3 1411.2L502.8 1390.8L503.3 1361.3L503.8 1332.0L504.3 1317.8L504.8 1332.0L505.3 1361.4L505.8 1390.8L506.3 1411.0L506.8 1421.3L507.3 1425.4L507.8 1426.9L508.3 1427.3L508.8 1426.9L509.3 1425.5L509.8 1423.4L510.3 1421.4L510.7 1421.0L510.8 1421.4L511.3 1423.2L511.8 1425.9L512.3 1428.1L512.8 1429.2L513.3 1429.6L513.8 1429.7L514.3 1429.6L514.8 1429.6L515.3 1429.7L515.8 1429.8L516.3 1429.8L516.8 1429.9L517.3 1429.9L517.8 1430.0L518.3 1430.1L518.8 1430.2L519.3 1430.2L519.8 1430.2L520.3 1430.3L520.8 1430.3L521.3 1430.5L521.8 1430.5L522.3 1430.5L522.8 1430.4L523.3 1430.2L523.8 1430.0L524.3 1429.9L524.8 1429.8L525.3 1429.8L525.8 1429.7L526.3 1429.7L526.8 1429.6L527.3 1429.7L527.8 1429.7L528.3 1429.8L528.8 1429.9L529.3 1429.8L529.8 1429.7L530.3 1429.5L530.8 1429.2L531.3 1429.0L531.8 1428.9L532.3 1429.1L532.8 1429.3L533.3 1429.6L533.8 1429.8L534.3 1429.9L534.8 1429.9L535.3 1429.7L535.8 1429.6L536.3 1429.4L536.8 1429.3L537.3 1429.0L537.8 1428.6L538.3 1428.1L538.8 1427.4L539.3 1426.8L539.8 1426.1L540.3 1425.3L540.8 1424.7L541.3 1424.3L541.7 1424.2L541.8 1424.3L542.3 1424.6L542.8 1425.0L543.3 1425.7L543.8 1426.4L544.3 1427.1L544.8 1427.8L545.3 1428.4L545.8 1428.8L546.3 1429.1L546.8 1429.4L547.3 1429.6L547.8 1429.7L548.3 1429.7L548.8 1429.8L549.3 1429.8L549.8 1429.8L550.3 1429.9L550.8 1430.0L551.3 1430.0L551.8 1430.0L552.3 1430.0L552.8 1429.9L553.3 1429.9L553.8 1429.8L554.3 1429.9L554.8 1429.9L555.3 1429.9L555.8 1429.8L556.3 1429.7L556.8 1429.6L557.3 1429.5L557.8 1429.6L558.3 1429.6L558.8 1429.8L559.3 1430.0L559.8 1430.1L560.3 1430.0L560.8 1429.7L561.3 1429.0L561.8 1428.0L562.3 1426.7L562.8 1425.6L563.3 1425.1L563.8 1425.5L564.3 1426.6L564.8 1427.9L565.3 1429.0L565.8 1429.7L566.3 1430.0L566.8 1429.9L567.3 1429.8L567.8 1429.7L568.3 1429.9L568.8 1430.1L569.3 1430.4L569.8 1430.6L570.3 1430.7L570.8 1430.6L571.3 1430.6L571.8 1430.5L572.3 1430.3L572.8 1430.2L573.3 1430.0L573.8 1429.8L574.3 1429.7L574.8 1429.8L575.3 1429.9L575.8 1430.0L576.3 1430.0L576.8 1430.0L577.3 1429.9L577.8 1429.8L578.3 1429.7L578.8 1429.6L579.3 1429.6L579.8 1429.5L580.3 1429.5L580.8 1429.5L581.3 1429.5L581.8 1429.5L582.3 1429.6L582.8 1429.6L583.3 1429.8L583.8 1429.8L584.3 1429.6L584.8 1429.1L585.3 1428.4L585.8 1427.7L586.0 1427.5L586.3 1427.5L586.8 1428.0L587.3 1428.7L587.8 1429.3L588.3 1429.7L588.8 1429.9L589.3 1430.0L589.8 1430.0L590.3 1429.9L590.8 1429.9L591.3 1429.9L591.8 1429.9L592.3 1429.9L592.8 1429.8L593.3 1429.8L593.8 1429.8L594.3 1429.8L594.8 1429.8L595.3 1429.8L595.8 1429.9L596.3 1429.9L596.8 1429.8L597.3 1429.8L597.8 1429.8L598.3 1429.8L598.8 1430.0L599.3 1430.0L599.8 1429.9L600.3 1429.7L600.8 1429.5L601.3 1429.4L601.8 1429.4L602.3 1429.4L602.8 1429.5L603.3 1429.6L603.8 1429.7L604.3 1429.9L604.8 1430.1L605.3 1430.3L605.8 1430.4L606.3 1430.3L606.8 1430.2L607.3 1430.0L607.8 1429.8L608.3 1429.6L608.8 1429.5L609.3 1429.5L609.8 1429.6L610.3 1429.7L610.8 1429.7L611.3 1429.7L611.8 1429.7L612.3 1429.6L612.8 1429.6L613.3 1429.7L613.8 1429.9L614.3 1430.0L614.8 1430.2L615.3 1430.2L615.8 1430.2L616.3 1429.9L616.8 1429.3L617.3 1428.4L617.8 1427.4L618.3 1426.9L618.8 1427.2L619.3 1428.0L619.8 1428.7L620.3 1429.2L620.8 1429.5L621.3 1429.6L621.8 1429.6L622.3 1429.6L622.8 1429.6L623.3 1429.6L623.8 1429.6L624.3 1429.6L624.8 1429.6L625.3 1429.5L625.8 1429.4L626.3 1429.4L626.8 1429.4L627.3 1429.5L627.8 1429.5L628.3 1429.7L628.8 1429.8L629.3 1429.9L629.8 1429.8L630.3 1429.7L630.8 1429.6L631.3 1429.6L631.8 1429.7L632.3 1429.7L632.8 1429.8L633.3 1429.8L633.8 1429.8L634.3 1429.8L634.8 1429.7L635.3 1429.6L635.8 1429.5L636.3 1429.2L636.8 1428.7L637.3 1427.9L637.8 1426.8L638.3 1425.6L638.8 1424.6L639.3 1424.2L639.8 1424.6L640.3 1425.6L640.8 1426.6L641.3 1427.6L641.8 1428.5L642.3 1429.2L642.8 1429.6L643.3 1429.9L643.8 1429.9L644.3 1429.9L644.8 1429.9L645.3 1429.9L645.8 1429.9L646.3 1429.8L646.8 1429.8L647.3 1429.7L647.8 1429.6L648.3 1429.6L648.8 1429.7L649.3 1429.7L649.8 1429.8L650.3 1429.8L650.8 1429.8L651.3 1429.7L651.8 1429.7L652.3 1429.8L652.8 1429.8L653.3 1429.9L653.8 1429.9L654.3 1429.8L654.8 1429.6L655.3 1429.4L655.8 1429.2L656.3 1429.1L656.8 1429.3L657.3 1429.5L657.8 1429.4L658.3 1428.8L658.8 1427.5L659.3 1425.8L659.8 1424.5L660.0 1424.4L660.3 1424.8L660.8 1426.2L661.3 1427.9L661.8 1428.9L662.3 1429.4L662.8 1429.5L663.3 1429.5L663.8 1429.5L664.3 1429.6L664.8 1429.7L665.3 1429.9L665.8 1429.9L666.3 1429.9L666.8 1429.7L667.3 1429.5L667.8 1429.4L668.3 1429.3L668.8 1429.3L669.3 1429.4L669.8 1429.5L670.3 1429.7L670.8 1429.8L671.3 1429.9L671.8 1430.0L672.3 1430.1L672.8 1430.2L673.3 1430.3L673.8 1430.2L674.3 1430.1L674.8 1430.0L675.3 1429.8L675.8 1429.7L676.3 1429.7L676.8 1429.6L677.3 1429.6L677.8 1429.6L678.3 1429.6L678.8 1429.6L679.3 1429.7L679.8 1429.8L680.3 1429.8L680.8 1429.9L681.3 1429.8L681.8 1429.7L682.3 1429.6L682.8 1429.4L683.3 1429.2L683.8 1429.1L684.3 1429.0L684.8 1429.1L685.3 1429.2L685.8 1429.3L686.3 1429.4L686.8 1429.4L687.3 1429.3L687.8 1429.3L688.3 1429.3L688.8 1429.4L689.3 1429.4L689.8 1429.4L690.3 1429.5L690.8 1429.5L691.3 1429.6L691.8 1429.7L692.3 1429.8L692.8 1430.0L693.3 1430.1L693.8 1430.2L694.3 1430.1L694.8 1429.9L695.3 1429.8L695.8 1429.7L696.3 1429.7L696.8 1429.7L697.3 1429.7L697.8 1429.8L698.3 1429.9L698.8 1429.9L699.3 1429.9L699.8 1429.9L700.3 1429.8L700.8 1429.7L701.3 1429.7L701.8 1429.7L702.3 1429.6L702.8 1429.2L703.3 1428.2L703.8 1426.4L704.3 1424.1L704.8 1422.4L705.0 1422.1L705.3 1422.4L705.8 1424.1L706.3 1426.1L706.8 1427.5L707.3 1427.9L707.8 1427.4L708.3 1426.1L708.8 1424.7L709.3 1424.1L709.8 1424.9L710.3 1426.5L710.8 1428.0L711.3 1429.0L711.8 1429.6L712.3 1429.8L712.8 1429.9L713.3 1429.9L713.8 1429.9L714.3 1429.8L714.8 1429.8L715.3 1429.7L715.8 1429.7L716.3 1429.6L716.8 1429.6L717.3 1429.4L717.8 1429.3L718.3 1429.2L718.8 1429.2L719.3 1429.3L719.8 1429.4L720.3 1429.3L720.8 1428.9L721.3 1428.2L721.8 1427.5L722.3 1426.8L722.7 1426.5L722.8 1426.4L723.3 1426.6L723.8 1427.3L724.3 1428.1L724.8 1428.7L725.3 1429.0L725.8 1429.1L726.3 1429.0L726.8 1428.8L727.3 1428.7L727.8 1428.7L728.3 1428.7L728.8 1428.7L729.3 1428.9L729.8 1429.0L730.3 1429.2L730.8 1429.4L731.3 1429.5L731.8 1429.5L732.3 1429.6L732.8 1429.6L733.3 1429.6L733.8 1429.6L734.3 1429.7L734.8 1429.8L735.3 1429.8L735.8 1429.8L736.3 1429.7L736.8 1429.6L737.3 1429.5L737.8 1429.5L738.3 1429.5L738.8 1429.5L739.3 1429.5L739.8 1429.5L740.3 1429.5L740.8 1429.6L741.3 1429.6L741.8 1429.8L742.3 1429.9L742.8 1429.9L743.3 1429.8L743.8 1429.7L744.3 1429.6L744.8 1429.6L745.3 1429.6L745.8 1429.7L746.3 1429.6L746.8 1429.5L747.3 1429.3L747.8 1429.2L748.3 1429.2L748.8 1429.3L749.3 1429.3L749.8 1429.4L750.3 1429.5L750.8 1429.6L751.3 1429.7L751.8 1429.7L752.3 1429.7L752.8 1429.7L753.3 1429.7L753.8 1429.8L754.3 1429.8L754.8 1429.8L755.3 1429.8L755.8 1429.8L756.3 1429.8L756.8 1429.8L757.3 1429.7L757.8 1429.7L758.3 1429.7L758.8 1429.6L759.3 1429.6L759.8 1429.7L760.3 1429.7L760.8 1429.8L761.3 1429.7L761.8 1429.7L762.3 1429.6L762.8 1429.6L763.3 1429.7L763.8 1429.6L764.3 1429.5L764.8 1429.3L765.3 1429.2L765.8 1429.1L766.3 1429.0L766.8 1429.1L767.3 1429.2L767.8 1429.4L768.3 1429.5L768.8 1429.5L769.3 1429.5L769.8 1429.5L770.3 1429.5L770.8 1429.3L771.3 1428.9L771.8 1428.1L772.3 1426.7L772.8 1424.6L773.3 1422.5L773.8 1421.1L774.0 1420.9L774.3 1421.2L774.8 1422.8L775.3 1424.9L775.8 1426.7L776.3 1427.9L776.8 1428.4L777.3 1428.7L777.8 1428.8L778.3 1429.0L778.8 1429.1L779.3 1429.3L779.8 1429.4L780.3 1429.4L780.8 1429.4L781.3 1429.3L781.8 1429.3L782.3 1429.2L782.8 1429.3L783.3 1429.5L783.8 1429.6L784.3 1429.7L784.8 1429.8L785.3 1430.0L785.8 1430.0L786.3 1430.0L786.8 1429.9L787.3 1429.7L787.8 1429.4L788.3 1429.1L788.8 1428.8L789.3 1428.4L789.8 1428.1L790.3 1427.7L790.8 1427.1L791.3 1426.4L791.8 1425.7L792.3 1425.0L792.8 1424.3L793.3 1423.9L793.8 1424.0L794.3 1424.3L794.8 1424.9L795.3 1425.7L795.8 1426.7L796.3 1427.5L796.8 1428.3L797.3 1428.9L797.8 1429.4L798.3 1429.8L798.8 1430.1L799.3 1430.2L799.8 1430.1L800.3 1429.9L800.8 1429.8L801.3 1429.6L801.8 1429.4L802.3 1429.2L802.8 1429.1L803.3 1429.1L803.8 1429.2L804.3 1429.4L804.8 1429.6L805.3 1429.7L805.8 1429.7L806.3 1429.5L806.8 1429.3L807.3 1429.2L807.8 1429.1L808.3 1429.2L808.8 1429.3L809.3 1429.4L809.8 1429.5L810.3 1429.5L810.8 1429.7L811.3 1429.9L811.8 1430.0L812.3 1430.1L812.8 1430.1L813.3 1430.1L813.8 1430.0L814.3 1430.1L814.8 1430.1L815.3 1430.1L815.8 1429.9L816.3 1429.7L816.8 1429.6L817.3 1429.5L817.8 1429.4L818.3 1429.4L818.8 1429.4L819.3 1429.4L819.8 1429.5L820.3 1429.6L820.8 1429.8L821.3 1429.8L821.8 1429.9L822.3 1429.8L822.8 1429.8L823.3 1429.8L823.8 1429.7L824.3 1429.6L824.8 1429.4L825.3 1429.2L825.8 1429.2L826.3 1429.2L826.8 1429.3L827.3 1429.5L827.8 1429.5L828.3 1429.5L828.8 1429.5L829.3 1429.5L829.8 1429.5L830.3 1429.5L830.8 1429.3L831.3 1429.1L831.8 1428.9L832.3 1428.8L832.8 1428.6L833.3 1428.1L833.8 1427.3L834.3 1426.1L834.8 1424.7L835.3 1423.4L835.7 1422.9L835.8 1422.8L836.3 1423.4L836.8 1424.6L837.3 1426.0L837.8 1427.3L838.3 1428.3L838.8 1428.8L839.3 1429.1L839.8 1429.2L840.3 1429.3L840.8 1429.4L841.3 1429.4L841.8 1429.4L842.3 1429.3L842.8 1429.2L843.3 1429.2L843.8 1429.1L844.3 1428.9L844.8 1428.2L845.3 1427.1L845.8 1425.4L846.3 1424.0L846.7 1423.5L846.8 1423.6L847.3 1424.7L847.8 1426.4L848.3 1427.8L848.8 1428.5L849.3 1428.7L849.8 1428.8L850.3 1428.8L850.8 1428.8L851.3 1428.7L851.8 1428.3L852.3 1427.6L852.8 1426.6L853.3 1425.6L853.8 1425.0L854.0 1424.9L854.3 1425.2L854.8 1425.9L855.3 1426.9L855.8 1427.7L856.3 1428.3L856.8 1428.7L857.3 1428.9L857.8 1429.0L858.3 1429.1L858.8 1429.1L859.3 1429.1L859.8 1429.1L860.3 1429.2L860.8 1429.2L861.3 1429.2L861.8 1429.2L862.3 1429.1L862.8 1429.0L863.3 1429.1L863.8 1429.2L864.3 1429.4L864.8 1429.6L865.3 1429.7L865.8 1429.9L866.3 1429.9L866.8 1429.9L867.3 1429.7L867.8 1429.4L868.3 1429.3L868.8 1429.2L869.3 1429.3L869.8 1429.4L870.3 1429.5L870.8 1429.4L871.3 1429.3L871.8 1429.2L872.3 1429.1L872.8 1429.1L873.3 1429.2L873.8 1429.4L874.3 1429.6L874.8 1429.7L875.3 1429.8L875.8 1429.7L876.3 1429.4L876.8 1429.1L877.3 1428.7L877.8 1428.5L878.3 1428.3L878.8 1428.2L879.3 1428.3L879.8 1428.4L880.3 1428.6L880.8 1428.8L881.3 1428.9L881.8 1428.9L882.3 1428.9L882.8 1428.9L883.3 1428.9L883.8 1428.9L884.3 1429.0L884.8 1429.0L885.3 1429.2L885.8 1429.3L886.3 1429.3L886.8 1429.2L887.3 1429.0L887.8 1428.8L888.3 1428.6L888.8 1428.5L889.3 1428.5L889.8 1428.5L890.3 1428.5L890.8 1428.6L891.3 1428.6L891.8 1428.5L892.3 1428.1L892.8 1427.0L893.3 1425.1L893.8 1422.2L894.3 1419.2L894.8 1417.3L895.0 1417.1L895.3 1417.7L895.8 1420.0L896.3 1423.2L896.8 1425.9L897.3 1427.6L897.8 1428.5L898.3 1428.9L898.8 1429.2L899.3 1429.4L899.8 1429.6L900.3 1429.7L900.8 1429.7L901.3 1429.6L901.8 1429.5L902.3 1429.4L902.8 1429.3L903.3 1429.2L903.8 1429.1L904.3 1429.1L904.8 1429.1L905.3 1429.2L905.8 1429.3L906.3 1429.3L906.8 1429.2L907.3 1429.1L907.8 1428.9L908.3 1428.9L908.8 1429.0L909.3 1429.2L909.8 1429.2L910.3 1428.9L910.8 1427.8L911.3 1425.8L911.8 1422.9L912.3 1420.4L912.7 1419.5L912.8 1419.7L913.3 1421.6L913.8 1424.3L914.3 1426.7L914.8 1428.0L915.3 1428.5L915.8 1428.7L916.3 1428.8L916.8 1428.9L917.3 1428.9L917.8 1428.9L918.3 1428.9L918.8 1428.9L919.3 1428.9L919.8 1429.0L920.3 1429.1L920.8 1429.1L921.3 1429.2L921.8 1429.0L922.3 1428.8L922.8 1428.6L923.3 1428.5L923.8 1428.4L924.3 1428.4L924.8 1428.5L925.3 1428.6L925.8 1428.6L926.3 1428.6L926.8 1428.6L927.3 1428.5L927.8 1428.1L928.3 1427.1L928.8 1425.1L929.3 1421.3L929.8 1415.8L930.3 1409.9L930.8 1406.0L931.0 1405.5L931.3 1406.8L931.8 1411.5L932.3 1408.6L932.8 1414.5L933.3 1418.4L933.8 1420.6L934.3 1421.9L934.8 1422.6L935.3 1423.2L935.8 1423.6L936.3 1423.9L936.8 1424.3L937.3 1424.7L937.8 1425.1L938.3 1425.5L938.8 1425.7L939.3 1425.8L939.8 1425.8L940.3 1425.9L940.8 1426.0L941.3 1426.2L941.8 1426.4L942.3 1426.6L942.8 1426.8L943.3 1427.1L943.8 1427.3L944.3 1427.5L944.8 1427.7L945.3 1427.8L945.8 1427.9L946.3 1427.8L946.8 1427.6L947.3 1427.6L947.8 1427.8L948.3 1428.0L948.8 1428.3L949.3 1428.2L949.8 1427.5L950.3 1425.9L950.8 1423.5L951.3 1421.3L951.7 1420.6L951.8 1420.8L952.3 1422.5L952.8 1425.0L953.3 1427.0L953.8 1428.1L954.3 1428.4L954.8 1428.5L955.3 1428.6L955.8 1428.7L956.3 1428.4L956.8 1427.4L957.3 1425.8L957.8 1424.0L958.3 1423.1L958.8 1424.0L959.3 1425.7L959.8 1427.3L960.3 1428.3L960.8 1428.7L961.3 1428.8L961.8 1428.8L962.3 1428.7L962.8 1428.6L963.3 1428.5L963.8 1428.3L964.3 1428.2L964.8 1428.0L965.3 1427.5L965.8 1426.1L966.3 1423.2L966.8 1418.3L967.3 1411.8L967.8 1405.8L968.3 1402.9L968.8 1405.6L969.3 1411.6L969.8 1418.1L970.3 1423.2L970.8 1426.3L971.3 1427.8L971.8 1428.5L972.3 1428.7L972.8 1428.8L973.3 1428.7L973.8 1428.6L974.3 1428.6L974.8 1428.8L975.3 1428.9L975.8 1429.1L976.3 1429.1L976.8 1429.1L977.3 1429.2L977.8 1429.3L978.3 1429.5L978.8 1429.6L979.3 1429.6L979.8 1429.5L980.3 1429.4L980.8 1429.3L981.3 1429.2L981.8 1429.2L982.3 1429.2L982.8 1429.3L983.3 1429.4L983.8 1429.5L984.3 1429.4L984.8 1429.3L985.3 1429.2L985.8 1429.1L986.3 1429.0L986.8 1428.9L987.3 1428.9L987.8 1428.9L988.3 1428.9L988.8 1428.9L989.3 1428.9L989.8 1428.8L990.3 1428.8L990.8 1428.8L991.3 1429.0L991.8 1429.1L992.3 1429.1L992.8 1429.1L993.3 1429.0L993.8 1428.9L994.3 1428.8L994.8 1428.8L995.3 1428.9L995.8 1429.0L996.3 1429.1L996.8 1429.2L997.3 1429.2L997.8 1429.3L998.3 1429.3L998.8 1429.4L999.3 1429.5L999.8 1429.6L1000.3 1429.5L1000.8 1429.4L1001.3 1429.3L1001.8 1429.2L1002.3 1429.1L1002.8 1429.0L1003.3 1428.7L1003.8 1428.1L1004.3 1426.4L1004.8 1423.2L1005.3 1418.0L1005.8 1411.7L1006.3 1406.3L1006.7 1404.4L1006.8 1404.6L1007.3 1408.0L1007.8 1414.0L1008.3 1420.0L1008.8 1424.6L1009.3 1427.2L1009.8 1428.5L1010.3 1429.1L1010.8 1429.2L1011.3 1429.2L1011.8 1429.2L1012.3 1429.1L1012.8 1429.0L1013.3 1429.1L1013.8 1429.1L1014.3 1429.2L1014.8 1429.2L1015.3 1429.1L1015.8 1429.1L1016.3 1429.0L1016.8 1428.9L1017.3 1428.9L1017.8 1428.7L1018.3 1428.6L1018.8 1428.4L1019.3 1428.4L1019.8 1428.3L1020.3 1428.2L1020.8 1427.8L1021.3 1427.2L1021.8 1426.4L1022.3 1425.6L1022.8 1425.1L1023.0 1425.0L1023.3 1425.2L1023.8 1425.9L1024.3 1426.8L1024.8 1427.6L1025.3 1428.3L1025.8 1428.8L1026.3 1429.2L1026.8 1429.4L1027.3 1429.6L1027.8 1429.6L1028.3 1429.5L1028.8 1429.3L1029.3 1429.1L1029.8 1428.9L1030.3 1428.7L1030.8 1428.6L1031.3 1428.7L1031.8 1428.8L1032.3 1429.0L1032.8 1429.2L1033.3 1429.4L1033.8 1429.5L1034.3 1429.6L1034.8 1429.7L1035.3 1429.6L1035.8 1429.4L1036.3 1429.2L1036.8 1429.0L1037.3 1428.8L1037.8 1428.8L1038.3 1428.7L1038.8 1428.5L1039.3 1428.3L1039.8 1428.1L1040.3 1428.0L1040.8 1428.1L1041.3 1428.4L1041.8 1428.6L1042.3 1428.8L1042.8 1429.0L1043.3 1429.1L1043.8 1429.2L1044.3 1429.2L1044.8 1429.1L1045.3 1429.0L1045.8 1429.0L1046.3 1429.0L1046.8 1429.0L1047.3 1429.0L1047.8 1428.9L1048.3 1428.9L1048.8 1429.0L1049.3 1429.1L1049.8 1429.1L1050.3 1429.0L1050.8 1428.9L1051.3 1428.7L1051.8 1428.6L1052.3 1428.6L1052.8 1428.6L1053.3 1428.7L1053.8 1428.8L1054.3 1428.8L1054.8 1428.8L1055.3 1428.5L1055.8 1428.1L1056.3 1427.1L1056.8 1425.5L1057.3 1423.4L1057.8 1421.9L1058.0 1421.7L1058.3 1422.0L1058.8 1423.8L1059.3 1425.9L1059.8 1427.6L1060.3 1428.5L1060.8 1428.9L1061.3 1428.9L1061.8 1428.9L1062.3 1428.8L1062.8 1428.8L1063.3 1428.9L1063.8 1429.0L1064.3 1429.1L1064.8 1429.0L1065.3 1428.8L1065.8 1428.4L1066.3 1427.9L1066.8 1426.8L1067.3 1424.5L1067.8 1420.5L1068.3 1415.1L1068.8 1410.1L1069.3 1407.8L1069.8 1410.1L1070.3 1415.0L1070.8 1420.3L1071.3 1424.4L1071.8 1426.7L1072.3 1427.9L1072.8 1428.4L1073.3 1428.6L1073.8 1428.7L1074.3 1428.7L1074.8 1428.7L1075.3 1428.8L1075.8 1428.8L1076.3 1428.8L1076.8 1428.8L1077.3 1428.9L1077.8 1428.9L1078.3 1429.0L1078.8 1429.0L1079.3 1429.0L1079.8 1429.0L1080.3 1428.9L1080.8 1428.8L1081.3 1428.9L1081.8 1428.9L1082.3 1429.0L1082.8 1429.0L1083.3 1429.0L1083.8 1428.9L1084.3 1428.9L1084.8 1428.8L1085.3 1428.8L1085.8 1428.8L1086.3 1428.8L1086.8 1428.8L1087.3 1428.8L1087.8 1428.8L1088.3 1428.8L1088.8 1428.8L1089.3 1428.7L1089.8 1428.7L1090.3 1428.7L1090.8 1428.7L1091.3 1428.7L1091.8 1428.8L1092.3 1428.8L1092.8 1428.8L1093.3 1428.8L1093.8 1428.8L1094.3 1428.9L1094.8 1428.9L1095.3 1428.9L1095.8 1428.9L1096.3 1429.0L1096.8 1429.0L1097.3 1429.0L1097.8 1428.9L1098.3 1428.8L1098.8 1428.6L1099.3 1428.4L1099.8 1428.3L1100.3 1428.2L1100.8 1428.2L1101.3 1428.3L1101.8 1428.5L1102.3 1428.6L1102.8 1428.7L1103.3 1428.6L1103.8 1428.6L1104.3 1428.5L1104.8 1428.3L1105.3 1428.1L1105.8 1427.8L1106.3 1427.4L1106.8 1426.6L1107.3 1425.0L1107.8 1422.0L1108.3 1417.5L1108.8 1411.7L1109.3 1406.1L1109.8 1402.5L1110.0 1401.9L1110.3 1402.7L1110.8 1406.8L1111.3 1412.7L1111.8 1418.4L1112.3 1422.8L1112.8 1425.4L1113.3 1426.8L1113.8 1427.5L1114.3 1427.8L1114.8 1428.0L1115.3 1428.1L1115.8 1428.3L1116.3 1428.4L1116.8 1428.5L1117.3 1428.6L1117.8 1428.6L1118.3 1428.6L1118.8 1428.6L1119.3 1428.5L1119.8 1428.4L1120.3 1428.4L1120.8 1428.3L1121.3 1428.3L1121.8 1428.3L1122.3 1428.3L1122.8 1428.5L1123.3 1428.6L1123.8 1428.8L1124.3 1428.9L1124.8 1428.9L1125.3 1428.9L1125.8 1428.8L1126.3 1428.8L1126.8 1428.7L1127.3 1428.8L1127.8 1428.9L1128.3 1428.9L1128.8 1429.0L1129.3 1428.9L1129.8 1428.9L1130.3 1428.8L1130.8 1428.8L1131.3 1428.9L1131.8 1429.0L1132.3 1429.1L1132.8 1429.1L1133.3 1429.1L1133.8 1429.0L1134.3 1428.8L1134.8 1428.2L1135.3 1426.9L1135.8 1425.2L1136.3 1423.5L1136.7 1422.8L1136.8 1422.7L1137.3 1423.7L1137.8 1425.3L1138.3 1426.7L1138.8 1427.6L1139.3 1428.1L1139.8 1428.4L1140.3 1428.6L1140.8 1428.8L1141.3 1428.8L1141.8 1428.8L1142.3 1428.8L1142.8 1428.6L1143.3 1428.4L1143.8 1428.2L1144.3 1428.1L1144.8 1428.2L1145.3 1428.4L1145.8 1428.6L1146.3 1428.7L1146.8 1428.8L1147.3 1428.8L1147.8 1428.9L1148.3 1429.0L1148.8 1429.0L1149.3 1429.1L1149.8 1429.1L1150.3 1429.0L1150.8 1429.0L1151.3 1428.9L1151.8 1428.9L1152.3 1428.9L1152.8 1428.8L1153.3 1428.7L1153.8 1428.7L1154.3 1428.7L1154.8 1428.7L1155.3 1428.7L1155.8 1428.7L1156.3 1428.7L1156.8 1428.7L1157.3 1428.7L1157.8 1428.7L1158.3 1428.8L1158.8 1428.9L1159.3 1429.0L1159.8 1429.0L1160.3 1428.9L1160.8 1428.9L1161.3 1428.9L1161.8 1429.0L1162.3 1428.9L1162.8 1428.8L1163.3 1428.7L1163.8 1428.6L1164.3 1428.6L1164.8 1428.7L1165.3 1428.8L1165.8 1428.9L1166.3 1428.9L1166.8 1429.0L1167.3 1429.1L1167.8 1429.1L1168.3 1429.1L1168.8 1429.0L1169.3 1428.9L1169.8 1428.7L1170.3 1428.7L1170.8 1428.7L1171.3 1428.7L1171.8 1428.8L1172.3 1428.9L1172.8 1428.9L1173.3 1428.8L1173.8 1428.7L1174.3 1428.5L1174.8 1428.5L1175.3 1428.5L1175.8 1428.5L1176.3 1428.3L1176.8 1427.5L1177.3 1426.2L1177.8 1424.2L1178.3 1421.9L1178.8 1420.0L1179.3 1419.1L1179.8 1419.9L1180.3 1421.7L1180.8 1423.8L1181.3 1425.6L1181.8 1426.8L1182.3 1427.4L1182.8 1427.6L1183.3 1427.7L1183.8 1427.8L1184.3 1427.9L1184.8 1427.9L1185.3 1427.5L1185.8 1426.5L1186.3 1424.5L1186.8 1421.5L1187.3 1418.8L1187.7 1418.0L1187.8 1418.3L1188.3 1420.4L1188.8 1423.5L1189.3 1426.1L1189.8 1427.7L1190.3 1428.3L1190.8 1428.6L1191.3 1428.6L1191.8 1428.5L1192.3 1428.5L1192.8 1428.5L1193.3 1428.6L1193.8 1428.8L1194.3 1428.8L1194.8 1428.7L1195.3 1428.4L1195.8 1428.0L1196.3 1427.8L1196.8 1427.7L1197.3 1427.8L1197.8 1427.9L1198.3 1427.8L1198.8 1427.2L1199.3 1425.4L1199.8 1422.1L1200.3 1418.0L1200.8 1415.1L1201.0 1414.8L1201.3 1415.8L1201.8 1419.3L1202.3 1423.3L1202.8 1426.0L1203.3 1427.4L1203.8 1427.9L1204.3 1428.2L1204.8 1428.3L1205.3 1428.4L1205.8 1428.5L1206.3 1428.4L1206.8 1428.3L1207.3 1428.3L1207.8 1428.3L1208.3 1428.4L1208.8 1428.5L1209.3 1428.5L1209.8 1428.2L1210.3 1427.6L1210.8 1426.1L1211.3 1423.3L1211.8 1419.3L1212.3 1415.5L1212.7 1414.3L1212.8 1414.5L1213.3 1417.1L1213.8 1421.2L1214.3 1424.7L1214.8 1426.8L1215.3 1427.7L1215.8 1428.0L1216.3 1428.2L1216.8 1428.2L1217.3 1428.1L1217.8 1427.8L1218.3 1426.9L1218.8 1425.2L1219.3 1422.9L1219.8 1421.1L1220.0 1420.8L1220.3 1421.1L1220.8 1422.9L1221.3 1425.0L1221.8 1426.6L1222.3 1427.4L1222.8 1427.7L1223.3 1427.9L1223.8 1428.0L1224.3 1428.2L1224.8 1428.3L1225.3 1428.4L1225.8 1428.4L1226.3 1428.4L1226.8 1428.5L1227.3 1428.5L1227.8 1428.5L1228.3 1428.5L1228.8 1428.5L1229.3 1428.5L1229.8 1428.5L1230.3 1428.5L1230.8 1428.5L1231.3 1428.7L1231.8 1428.9L1232.3 1429.0L1232.8 1429.0L1233.3 1428.9L1233.8 1428.8L1234.3 1428.7L1234.8 1428.6L1235.3 1426.8L1235.8 1376.5L1236.3 1255.7L1236.8 1138.5L1237.3 980.6L1237.8 816.6L1238.3 980.7L1238.8 1138.6L1239.3 1256.0L1239.8 1310.9L1240.3 1370.1L1240.8 1379.3L1241.3 1385.6L1241.8 1390.9L1242.3 1395.5L1242.8 1399.5L1243.3 1403.1L1243.8 1406.4L1244.3 1409.2L1244.8 1411.6L1245.3 1413.6L1245.8 1415.3L1246.3 1416.7L1246.8 1417.9L1247.3 1418.9L1247.8 1419.9L1248.3 1420.8L1248.8 1421.8L1249.3 1422.6L1249.8 1423.3L1250.3 1423.7L1250.8 1424.0L1251.3 1424.3L1251.8 1424.6L1252.3 1424.9L1252.8 1425.2L1253.3 1425.4L1253.8 1425.6L1254.3 1425.8L1254.8 1425.9L1255.3 1426.0L1255.8 1426.1L1256.3 1426.1L1256.8 1426.1L1257.3 1426.1L1257.8 1426.2L1258.3 1426.4L1258.8 1426.7L1259.3 1427.0L1259.8 1427.3L1260.3 1427.5L1260.8 1427.5L1261.3 1427.6L1261.8 1427.6L1262.3 1427.6L1262.8 1427.4L1263.3 1427.3L1263.8 1427.2L1264.3 1427.2L1264.8 1427.3L1265.3 1427.4L1265.8 1427.4L1266.3 1427.3L1266.8 1427.2L1267.3 1427.3L1267.8 1427.4L1268.3 1427.6L1268.8 1427.7L1269.3 1427.7L1269.8 1427.7L1270.3 1427.7L1270.8 1427.7L1271.3 1427.8L1271.8 1427.8L1272.3 1427.8L1272.8 1428.0L1273.3 1428.1L1273.8 1428.3L1274.3 1428.4L1274.8 1428.3L1275.3 1428.2L1275.8 1428.2L1276.3 1428.2L1276.8 1428.1L1277.3 1427.9L1277.8 1427.5L1278.3 1426.7L1278.8 1425.6L1279.3 1424.4L1279.8 1423.4L1280.0 1423.3L1280.3 1423.4L1280.8 1424.4L1281.3 1425.7L1281.8 1426.7L1282.3 1427.2L1282.8 1427.2L1283.3 1426.4L1283.8 1424.7L1284.3 1422.5L1284.8 1420.9L1285.0 1420.7L1285.3 1421.2L1285.8 1423.1L1286.3 1425.2L1286.8 1426.7L1287.3 1427.3L1287.8 1427.5L1288.3 1427.6L1288.8 1427.6L1289.3 1427.7L1289.8 1427.8L1290.3 1427.9L1290.8 1427.9L1291.3 1427.7L1291.8 1427.2L1292.3 1426.3L1292.8 1424.8L1293.3 1423.2L1293.8 1421.9L1294.3 1421.4L1294.8 1422.0L1295.3 1423.4L1295.8 1424.9L1296.3 1426.3L1296.8 1427.2L1297.3 1427.8L1297.8 1428.1L1298.3 1428.4L1298.8 1428.5L1299.3 1428.6L1299.8 1428.7L1300.3 1428.7L1300.8 1428.7L1301.3 1428.7L1301.8 1428.7L1302.3 1428.6L1302.8 1428.5L1303.3 1428.4L1303.8 1428.4L1304.3 1428.5L1304.8 1428.6L1305.3 1428.6L1305.8 1428.6L1306.3 1428.5L1306.8 1428.4L1307.3 1428.4L1307.8 1428.4L1308.3 1428.5L1308.8 1428.6L1309.3 1428.7L1309.8 1428.8L1310.3 1428.8L1310.8 1428.8L1311.3 1428.8L1311.8 1428.8L1312.3 1428.7L1312.8 1428.6L1313.3 1428.5L1313.8 1428.4L1314.3 1428.5L1314.8 1428.6L1315.3 1428.8L1315.8 1428.8L1316.3 1428.7L1316.8 1428.5L1317.3 1428.3L1317.8 1428.1L1318.3 1428.0L1318.8 1428.1L1319.3 1428.2L1319.8 1428.3L1320.3 1428.4L1320.8 1428.5L1321.3 1428.6L1321.8 1428.6L1322.3 1428.5L1322.8 1428.4L1323.3 1428.4L1323.8 1428.4L1324.3 1428.3L1324.8 1428.3L1325.3 1428.2L1325.8 1428.2L1326.3 1428.0L1326.8 1427.9L1327.3 1427.9L1327.8 1427.9L1328.3 1427.9L1328.8 1428.0L1329.3 1428.0L1329.8 1428.0L1330.3 1428.0L1330.8 1428.1L1331.3 1428.2L1331.8 1428.3L1332.3 1428.3L1332.8 1428.3L1333.3 1428.1L1333.8 1427.8L1334.3 1427.4L1334.8 1426.9L1335.3 1426.3L1335.8 1425.6L1336.3 1425.1L1336.7 1425.0L1336.8 1425.1L1337.3 1425.5L1337.8 1426.3L1338.3 1427.1L1338.8 1427.8L1339.3 1428.2L1339.8 1428.4L1340.3 1428.5L1340.8 1428.4L1341.3 1428.2L1341.8 1428.0L1342.3 1427.9L1342.8 1428.0L1343.3 1428.1L1343.8 1428.2L1344.3 1428.3" fill="none" stroke="#404040" stroke-width="2.5" stroke-linejoin="round"/>
<line x1="1237.9" y1="830.0" x2="1237.8" y2="1390.0" stroke="#5a5a5a" stroke-width="1.2"/>
<line x1="292.3" y1="1300.0" x2="292.3" y2="1412.0" stroke="#4a4a4a" stroke-width="1.4"/>
<line x1="504.3" y1="1326.0" x2="504.3" y2="1412.0" stroke="#4a4a4a" stroke-width="1.4"/>
<ellipse cx="205.0" cy="1412.7" rx="10.5" ry="12.3" fill="#000"/>
<ellipse cx="257.7" cy="1407.3" rx="10.5" ry="12.3" fill="#000"/>
<ellipse cx="294.4" cy="1291.5" rx="10.6" ry="12.1" fill="#000"/>
<ellipse cx="408.3" cy="1410.0" rx="10.5" ry="12.3" fill="#000"/>
<ellipse cx="437.3" cy="1386.0" rx="10.5" ry="12.3" fill="#000"/>
<ellipse cx="474.5" cy="1394.0" rx="10.5" ry="12.3" fill="#000"/>
<ellipse cx="507.7" cy="1317.7" rx="10.5" ry="12.3" fill="#000"/>
<ellipse cx="932.3" cy="1391.7" rx="10.5" ry="12.3" fill="#000"/>
<ellipse cx="974.3" cy="1391.7" rx="10.5" ry="12.3" fill="#000"/>
<ellipse cx="1009.0" cy="1396.7" rx="10.5" ry="12.3" fill="#000"/>
<ellipse cx="1069.3" cy="1399.3" rx="10.5" ry="12.3" fill="#000"/>
<ellipse cx="1237.9" cy="817.4" rx="10.4" ry="12.4" fill="#000"/>
<path d="M1104.7 1385 L1118.7 1385 A10.5 12.3 0 1 1 1104.7 1385 Z" fill="#000"/>
<text transform="translate(214.0 1392.7) rotate(-90)" class="t" font-size="24.0" textLength="60.9" lengthAdjust="spacingAndGlyphs" fill="#000" word-spacing="3.0" stroke="#000" stroke-width="0.20">C14:0</text>
<text transform="translate(265.5 1387.4) rotate(-90)" class="t" font-size="24.0" textLength="61.9" lengthAdjust="spacingAndGlyphs" fill="#000" word-spacing="3.0" stroke="#000" stroke-width="0.20">C15:0</text>
<text transform="translate(302.5 1271.0) rotate(-90)" class="t" font-size="24.0" textLength="61.2" lengthAdjust="spacingAndGlyphs" fill="#000" word-spacing="3.0" stroke="#000" stroke-width="0.20">C16:0</text>
<text transform="translate(416.2 1390.5) rotate(-90)" class="t" font-size="24.0" textLength="62.0" lengthAdjust="spacingAndGlyphs" fill="#000" word-spacing="3.0" stroke="#000" stroke-width="0.20">C17:0</text>
<text transform="translate(444.2 1367.5) rotate(-90)" class="t" font-size="24.0" textLength="222.8" lengthAdjust="spacingAndGlyphs" fill="#000" word-spacing="3.0" stroke="#000" stroke-width="0.20">C16:0 TMS derivative</text>
<text transform="translate(481.3 1374.7) rotate(-90)" class="t" font-size="24.0" textLength="58.9" lengthAdjust="spacingAndGlyphs" fill="#000" word-spacing="3.0" stroke="#000" stroke-width="0.20">C18:1</text>
<text transform="translate(516.2 1298.0) rotate(-90)" class="t" font-size="24.0" textLength="61.9" lengthAdjust="spacingAndGlyphs" fill="#000" word-spacing="3.0" stroke="#000" stroke-width="0.20">C18:0</text>
<text transform="translate(983.3 1372.0) rotate(-90)" class="t" font-size="24.0" textLength="62.8" lengthAdjust="spacingAndGlyphs" fill="#000" word-spacing="3.0" stroke="#000" stroke-width="0.25">C25:0</text>
<text transform="translate(1017.3 1373.7) rotate(-90)" class="t" font-size="21.3" textLength="57.9" lengthAdjust="spacingAndGlyphs" fill="#222" word-spacing="3.0">C26:0</text>
<text transform="translate(1076.2 1374.0) rotate(-90)" class="t" font-size="21.3" textLength="54.0" lengthAdjust="spacingAndGlyphs" fill="#000" word-spacing="3.0" stroke="#000" stroke-width="0.20">C27:0</text>
<text transform="translate(1120.0 1379.3) rotate(-90)" class="t" font-size="24.0" textLength="62.5" lengthAdjust="spacingAndGlyphs" fill="#000" word-spacing="3.0" stroke="#000" stroke-width="0.25">C28:0</text>
<text transform="translate(1244.0 797.4) rotate(-90)" class="t" font-size="24.0" textLength="18.6" lengthAdjust="spacingAndGlyphs" fill="#000" word-spacing="3.0" stroke="#000" stroke-width="0.50">IS</text>
<text x="101.2" y="1475.8" class="t" font-size="21.5" textLength="24.6" lengthAdjust="spacingAndGlyphs" fill="#444" stroke="#444" stroke-width="0.20">30</text>
<text x="306.2" y="1475.8" class="t" font-size="21.5" textLength="24.6" lengthAdjust="spacingAndGlyphs" fill="#444" stroke="#444" stroke-width="0.20">35</text>
<text x="511.0" y="1475.8" class="t" font-size="21.5" textLength="24.6" lengthAdjust="spacingAndGlyphs" fill="#444" stroke="#444" stroke-width="0.20">40</text>
<text x="715.7" y="1475.8" class="t" font-size="21.5" textLength="24.6" lengthAdjust="spacingAndGlyphs" fill="#444" stroke="#444" stroke-width="0.20">45</text>
<text x="921.0" y="1475.8" class="t" font-size="21.5" textLength="24.6" lengthAdjust="spacingAndGlyphs" fill="#444" stroke="#444" stroke-width="0.20">50</text>
<text x="1126.1" y="1475.8" class="t" font-size="21.5" textLength="24.6" lengthAdjust="spacingAndGlyphs" fill="#444" stroke="#444" stroke-width="0.20">55</text>
<text x="1330.7" y="1475.8" class="t" font-size="21.5" textLength="24.6" lengthAdjust="spacingAndGlyphs" fill="#444" stroke="#444" stroke-width="0.20">60</text>
<text x="553.3" y="1503.3" class="t" font-size="27.5" textLength="270.0" lengthAdjust="spacingAndGlyphs" fill="#000" word-spacing="5.0" stroke="#000" stroke-width="0.30">Retention time (min)</text>
<rect x="11.4" y="1556.8" width="1388.4" height="782.3" fill="none" stroke="#5c5c5c" stroke-width="2.7"/>
<line x1="100.0" y1="2314.5" x2="1390.0" y2="2314.5" stroke="#f4f4f4" stroke-width="1.5"/>
<text x="16.9" y="1616.0" class="t" font-size="48.0" textLength="98.4" lengthAdjust="spacingAndGlyphs" fill="#000">(3a)</text>
<line x1="144.2" y1="1687.0" x2="135.2" y2="2246.0" stroke="#454545" stroke-width="2.3"/>
<polygon points="144.3,1672.8 135.3,1689.6 152.5,1689.6" fill="#000"/>
<line x1="136.0" y1="2249.6" x2="1355.0" y2="2249.6" stroke="#cfcfcf" stroke-width="1.6"/>
<text transform="translate(125.9 2071.8) rotate(-90)" class="t" font-size="28.0" textLength="247.8" lengthAdjust="spacingAndGlyphs" fill="#000" word-spacing="4.0" stroke="#000" stroke-width="0.20">Relative abundance</text>
<rect x="470.6" y="1972.6" width="764.4" height="289.4" fill="none" stroke="#9a9a9a" stroke-width="1.9"/>
<text x="470.6" y="1958.0" class="t" font-size="38.5" textLength="79.0" lengthAdjust="spacingAndGlyphs" fill="#000">(3b)</text>
<path d="M135.0 2245.4L135.5 2245.4L136.0 2245.4L136.5 2245.5L137.0 2245.5L137.5 2245.6L138.0 2245.7L138.5 2245.6L139.0 2245.5L139.5 2245.4L140.0 2245.3L140.5 2245.2L141.0 2245.0L141.5 2244.9L142.0 2244.9L142.5 2245.0L143.0 2245.1L143.5 2245.2L144.0 2245.2L144.5 2245.2L145.0 2245.2L145.5 2245.2L146.0 2245.2L146.5 2245.2L147.0 2245.3L147.5 2245.3L148.0 2245.3L148.5 2245.2L149.0 2245.1L149.5 2244.9L150.0 2244.8L150.5 2244.8L151.0 2244.8L151.5 2244.8L152.0 2244.8L152.5 2244.9L153.0 2244.9L153.5 2244.9L154.0 2244.9L154.5 2245.0L155.0 2245.0L155.5 2245.2L156.0 2245.3L156.5 2245.4L157.0 2245.5L157.5 2245.4L158.0 2245.3L158.5 2245.2L159.0 2245.0L159.5 2244.9L160.0 2244.9L160.5 2245.0L161.0 2245.1L161.5 2245.1L162.0 2245.1L162.5 2245.0L163.0 2245.0L163.5 2245.0L164.0 2245.1L164.5 2245.1L165.0 2245.2L165.5 2245.2L166.0 2245.2L166.5 2245.1L167.0 2245.1L167.5 2245.1L168.0 2245.2L168.5 2245.3L169.0 2245.4L169.5 2245.4L170.0 2245.4L170.5 2245.3L171.0 2245.1L171.5 2244.8L172.0 2244.7L172.5 2244.6L173.0 2244.6L173.5 2244.7L174.0 2244.9L174.5 2245.0L175.0 2245.1L175.5 2245.3L176.0 2245.4L176.5 2245.5L177.0 2245.6L177.5 2245.5L178.0 2245.3L178.5 2245.2L179.0 2245.0L179.5 2244.7L180.0 2244.3L180.5 2243.7L181.0 2243.0L181.5 2242.4L182.0 2242.0L182.3 2242.0L182.5 2242.1L183.0 2242.4L183.5 2242.8L184.0 2243.3L184.5 2243.7L185.0 2244.1L185.5 2244.4L186.0 2244.7L186.5 2244.9L187.0 2245.1L187.5 2245.2L188.0 2245.2L188.5 2245.1L189.0 2245.1L189.5 2245.1L190.0 2245.1L190.5 2245.1L191.0 2245.1L191.5 2245.1L192.0 2245.1L192.5 2245.1L193.0 2245.2L193.5 2245.3L194.0 2245.4L194.5 2245.5L195.0 2245.5L195.5 2245.3L196.0 2245.2L196.5 2245.1L197.0 2245.0L197.5 2244.9L198.0 2244.9L198.5 2245.0L199.0 2245.0L199.5 2245.0L200.0 2245.1L200.5 2245.1L201.0 2245.2L201.5 2245.3L202.0 2245.3L202.5 2245.3L203.0 2245.3L203.5 2245.2L204.0 2245.0L204.5 2244.9L205.0 2244.7L205.5 2244.6L206.0 2244.6L206.5 2244.7L207.0 2244.8L207.5 2245.0L208.0 2245.1L208.5 2245.2L209.0 2245.2L209.5 2245.1L210.0 2245.0L210.5 2245.0L211.0 2244.9L211.5 2244.9L212.0 2245.0L212.5 2245.1L213.0 2245.2L213.5 2245.3L214.0 2245.4L214.5 2245.4L215.0 2245.3L215.5 2245.2L216.0 2245.2L216.5 2245.1L217.0 2245.1L217.5 2245.0L218.0 2244.9L218.5 2244.6L219.0 2244.3L219.5 2243.8L220.0 2243.1L220.5 2242.3L221.0 2241.4L221.5 2240.6L222.0 2240.1L222.3 2239.9L222.5 2239.8L223.0 2240.1L223.5 2240.8L224.0 2241.5L224.5 2242.4L225.0 2243.2L225.5 2243.9L226.0 2244.4L226.5 2244.8L227.0 2244.9L227.5 2245.0L228.0 2245.0L228.5 2245.0L229.0 2245.1L229.5 2245.1L230.0 2245.1L230.5 2245.0L231.0 2244.9L231.5 2244.8L232.0 2244.8L232.5 2244.8L233.0 2244.9L233.5 2245.0L234.0 2245.1L234.5 2245.2L235.0 2245.2L235.5 2245.3L236.0 2245.3L236.5 2245.2L237.0 2245.2L237.5 2245.2L238.0 2245.1L238.5 2245.1L239.0 2245.0L239.5 2244.9L240.0 2244.9L240.5 2244.9L241.0 2244.9L241.5 2245.0L242.0 2245.1L242.5 2245.2L243.0 2245.4L243.5 2245.5L244.0 2245.5L244.5 2245.4L245.0 2245.2L245.5 2245.1L246.0 2245.1L246.5 2245.3L247.0 2245.4L247.5 2245.6L248.0 2245.6L248.5 2245.6L249.0 2245.5L249.5 2245.4L250.0 2245.4L250.5 2245.4L251.0 2245.4L251.5 2245.3L252.0 2245.2L252.5 2245.1L253.0 2245.0L253.5 2244.8L254.0 2244.6L254.5 2244.5L255.0 2244.4L255.5 2244.5L256.0 2244.7L256.5 2244.8L257.0 2244.9L257.5 2244.9L258.0 2245.0L258.5 2245.1L259.0 2245.1L259.5 2245.1L260.0 2245.1L260.5 2245.0L261.0 2244.9L261.5 2244.9L262.0 2244.8L262.5 2244.8L263.0 2244.8L263.5 2244.8L264.0 2244.9L264.5 2245.0L265.0 2245.2L265.5 2245.3L266.0 2245.3L266.5 2245.2L267.0 2245.0L267.5 2245.0L268.0 2244.9L268.5 2244.9L269.0 2244.7L269.5 2244.5L270.0 2244.2L270.5 2243.8L271.0 2243.1L271.5 2242.2L272.0 2240.9L272.5 2239.4L273.0 2238.0L273.5 2237.0L274.0 2236.6L274.5 2237.0L275.0 2238.0L275.5 2239.4L276.0 2240.8L276.5 2242.2L277.0 2243.3L277.5 2244.0L278.0 2244.3L278.5 2244.5L279.0 2244.5L279.5 2244.7L280.0 2244.9L280.5 2245.2L281.0 2245.3L281.5 2245.4L282.0 2245.4L282.5 2245.4L283.0 2245.3L283.5 2245.3L284.0 2245.3L284.5 2245.4L285.0 2245.4L285.5 2245.5L286.0 2245.5L286.5 2245.6L287.0 2245.6L287.5 2245.7L288.0 2245.6L288.5 2245.4L289.0 2245.1L289.5 2244.9L290.0 2244.7L290.5 2244.6L291.0 2244.7L291.5 2244.8L292.0 2244.9L292.5 2245.0L293.0 2245.1L293.5 2245.2L294.0 2245.2L294.5 2245.2L295.0 2245.2L295.5 2245.3L296.0 2245.3L296.5 2245.3L297.0 2245.3L297.5 2245.2L298.0 2245.2L298.5 2245.1L299.0 2245.1L299.5 2245.1L300.0 2245.0L300.5 2244.9L301.0 2244.8L301.5 2244.7L302.0 2244.7L302.5 2244.7L303.0 2244.8L303.5 2244.8L304.0 2244.9L304.5 2244.9L305.0 2244.9L305.5 2244.8L306.0 2244.7L306.5 2244.5L307.0 2244.2L307.5 2244.0L308.0 2243.4L308.5 2241.9L309.0 2237.3L309.5 2227.0L310.0 2209.9L310.5 2191.5L311.0 2182.2L311.5 2191.5L312.0 2209.9L312.5 2226.9L313.0 2237.1L313.5 2241.6L314.0 2243.2L314.5 2243.7L315.0 2244.1L315.5 2244.3L316.0 2244.3L316.5 2244.4L317.0 2244.5L317.5 2244.7L318.0 2244.9L318.5 2245.1L319.0 2245.2L319.5 2245.3L320.0 2245.3L320.5 2245.3L321.0 2245.3L321.5 2245.3L322.0 2245.2L322.5 2245.2L323.0 2245.1L323.5 2245.0L324.0 2245.0L324.5 2245.0L325.0 2245.1L325.5 2245.2L326.0 2245.2L326.5 2245.2L327.0 2245.1L327.5 2244.9L328.0 2244.9L328.5 2244.9L329.0 2245.0L329.5 2245.1L330.0 2245.2L330.5 2245.2L331.0 2245.2L331.5 2245.1L332.0 2245.0L332.5 2244.9L333.0 2244.8L333.5 2244.8L334.0 2244.8L334.5 2244.8L335.0 2244.8L335.5 2244.9L336.0 2244.9L336.5 2245.0L337.0 2245.0L337.5 2244.9L338.0 2244.7L338.5 2244.3L339.0 2243.7L339.5 2243.3L340.0 2243.0L340.5 2243.1L341.0 2243.4L341.5 2243.7L342.0 2244.1L342.5 2244.3L343.0 2244.5L343.5 2244.7L344.0 2244.9L344.5 2245.0L345.0 2245.0L345.5 2244.9L346.0 2244.8L346.5 2244.8L347.0 2244.8L347.5 2244.9L348.0 2245.0L348.5 2245.1L349.0 2245.1L349.5 2245.0L350.0 2245.0L350.5 2245.0L351.0 2245.0L351.5 2245.0L352.0 2245.0L352.5 2245.0L353.0 2245.0L353.5 2245.1L354.0 2245.2L354.5 2245.2L355.0 2245.2L355.5 2245.1L356.0 2245.1L356.5 2245.2L357.0 2245.3L357.5 2245.4L358.0 2245.4L358.5 2245.3L359.0 2245.2L359.5 2245.1L360.0 2245.0L360.5 2244.9L361.0 2244.9L361.5 2244.9L362.0 2244.9L362.5 2244.9L363.0 2244.7L363.5 2244.6L364.0 2244.3L364.5 2244.1L365.0 2243.9L365.5 2243.6L366.0 2243.4L366.5 2243.1L367.0 2242.8L367.5 2242.6L368.0 2242.4L368.5 2242.2L369.0 2242.0L369.5 2241.9L370.0 2241.8L370.5 2241.8L371.0 2241.8L371.5 2241.9L372.0 2242.1L372.5 2242.5L373.0 2242.9L373.5 2243.3L374.0 2243.6L374.5 2244.0L375.0 2244.3L375.5 2244.6L376.0 2244.8L376.5 2244.9L377.0 2244.9L377.5 2244.8L378.0 2244.7L378.5 2244.7L379.0 2244.8L379.5 2244.9L380.0 2245.0L380.5 2245.1L381.0 2245.0L381.5 2245.0L382.0 2245.0L382.5 2245.0L383.0 2245.0L383.5 2244.9L384.0 2244.8L384.5 2244.7L385.0 2244.7L385.5 2244.8L386.0 2244.9L386.5 2245.0L387.0 2245.0L387.5 2245.0L388.0 2245.0L388.5 2245.1L389.0 2245.1L389.5 2245.0L390.0 2245.0L390.5 2244.9L391.0 2244.8L391.5 2244.7L392.0 2244.7L392.5 2244.7L393.0 2244.8L393.5 2244.7L394.0 2244.6L394.5 2244.3L395.0 2243.9L395.5 2243.5L396.0 2243.1L396.5 2242.8L396.7 2242.8L397.0 2242.9L397.5 2243.3L398.0 2243.8L398.5 2244.1L399.0 2244.3L399.5 2244.4L400.0 2244.6L400.5 2244.8L401.0 2245.0L401.5 2245.1L402.0 2245.1L402.5 2245.0L403.0 2244.8L403.5 2244.7L404.0 2244.6L404.5 2244.7L405.0 2244.9L405.5 2245.1L406.0 2245.1L406.5 2245.2L407.0 2245.1L407.5 2245.1L408.0 2245.0L408.5 2244.9L409.0 2244.9L409.5 2244.8L410.0 2244.9L410.5 2244.9L411.0 2244.9L411.5 2244.8L412.0 2244.8L412.5 2244.8L413.0 2244.9L413.5 2245.0L414.0 2245.0L414.5 2244.9L415.0 2244.9L415.5 2244.9L416.0 2245.0L416.5 2245.1L417.0 2245.1L417.5 2245.1L418.0 2245.1L418.5 2245.1L419.0 2245.1L419.5 2245.0L420.0 2244.9L420.5 2244.9L421.0 2244.8L421.5 2244.8L422.0 2244.8L422.5 2244.8L423.0 2244.9L423.5 2244.8L424.0 2244.8L424.5 2244.7L425.0 2244.7L425.5 2244.5L426.0 2244.2L426.5 2243.7L427.0 2243.0L427.5 2242.3L428.0 2241.9L428.3 2241.9L428.5 2242.1L429.0 2242.6L429.5 2243.2L430.0 2243.7L430.5 2244.1L431.0 2244.3L431.5 2244.4L432.0 2244.6L432.5 2244.7L433.0 2244.8L433.5 2244.9L434.0 2244.9L434.5 2244.9L435.0 2244.9L435.5 2244.9L436.0 2244.9L436.5 2244.8L437.0 2244.8L437.5 2244.8L438.0 2244.8L438.5 2244.8L439.0 2244.8L439.5 2244.8L440.0 2244.7L440.5 2244.7L441.0 2244.8L441.5 2244.9L442.0 2244.9L442.5 2244.9L443.0 2244.9L443.5 2244.9L444.0 2244.8L444.5 2244.6L445.0 2244.5L445.5 2244.4L446.0 2244.4L446.5 2244.5L447.0 2244.5L447.5 2244.6L448.0 2244.7L448.5 2244.8L449.0 2244.9L449.5 2244.8L450.0 2244.8L450.5 2244.8L451.0 2244.8L451.5 2244.7L452.0 2244.5L452.5 2243.9L453.0 2242.8L453.5 2241.4L454.0 2239.7L454.5 2237.9L455.0 2236.3L455.5 2235.3L455.7 2235.2L456.0 2235.4L456.5 2236.6L457.0 2238.4L457.5 2240.4L458.0 2242.1L458.5 2243.3L459.0 2244.0L459.5 2244.4L460.0 2244.6L460.5 2244.8L461.0 2244.9L461.5 2244.9L462.0 2244.9L462.5 2244.8L463.0 2244.7L463.5 2244.7L464.0 2244.7L464.5 2244.8L465.0 2244.8L465.5 2244.7L466.0 2244.6L466.5 2244.5L467.0 2244.5L467.5 2244.7L468.0 2244.8L468.5 2245.0L469.0 2245.0L469.5 2244.9L470.0 2244.7L470.5 2244.6L471.0 2244.5L471.5 2244.4L472.0 2244.5L472.5 2244.6L473.0 2244.8L473.5 2244.9L474.0 2244.9L474.5 2244.8L475.0 2244.6L475.5 2244.4L476.0 2244.3L476.5 2244.4L477.0 2244.7L477.5 2245.0L478.0 2245.2L478.5 2245.3L479.0 2245.3L479.5 2245.1L480.0 2245.0L480.5 2245.0L481.0 2245.0L481.5 2244.9L482.0 2244.9L482.5 2244.9L483.0 2244.9L483.5 2244.9L484.0 2244.8L484.5 2244.8L485.0 2244.8L485.5 2245.0L486.0 2245.2L486.5 2245.2L487.0 2245.1L487.5 2244.9L488.0 2244.6L488.5 2244.3L489.0 2243.9L489.5 2243.3L490.0 2242.3L490.5 2240.8L491.0 2238.8L491.5 2236.7L492.0 2234.8L492.5 2233.7L492.7 2233.6L493.0 2233.9L493.5 2235.2L494.0 2237.2L494.5 2239.3L495.0 2241.2L495.5 2242.6L496.0 2243.6L496.5 2244.1L497.0 2244.3L497.5 2244.4L498.0 2244.4L498.5 2244.4L499.0 2244.4L499.5 2244.4L500.0 2244.5L500.5 2244.6L501.0 2244.8L501.5 2244.9L502.0 2244.9L502.5 2244.9L503.0 2244.8L503.5 2244.8L504.0 2244.8L504.5 2244.8L505.0 2244.9L505.5 2244.9L506.0 2244.9L506.5 2244.9L507.0 2244.9L507.5 2244.8L508.0 2244.8L508.5 2244.8L509.0 2244.8L509.5 2244.8L510.0 2244.9L510.5 2245.0L511.0 2245.0L511.5 2244.9L512.0 2244.8L512.5 2244.7L513.0 2244.7L513.5 2244.8L514.0 2244.9L514.5 2244.8L515.0 2244.7L515.5 2244.6L516.0 2244.6L516.5 2244.6L517.0 2244.6L517.5 2244.5L518.0 2244.4L518.5 2244.1L519.0 2243.6L519.5 2242.3L520.0 2238.8L520.5 2229.7L521.0 2211.8L521.5 2186.7L522.0 2165.1L522.3 2160.0L522.5 2162.6L523.0 2181.7L523.5 2207.2L524.0 2226.9L524.5 2237.4L525.0 2241.6L525.5 2243.2L526.0 2243.8L526.5 2244.2L527.0 2244.5L527.5 2244.7L528.0 2244.7L528.5 2244.7L529.0 2244.5L529.5 2244.4L530.0 2244.4L530.5 2244.4L531.0 2244.4L531.5 2244.4L532.0 2244.4L532.5 2244.3L533.0 2244.2L533.5 2244.1L534.0 2244.2L534.5 2244.4L535.0 2244.5L535.5 2244.6L536.0 2244.5L536.5 2244.4L537.0 2244.3L537.5 2244.3L538.0 2244.4L538.5 2244.4L539.0 2244.4L539.5 2244.4L540.0 2244.5L540.5 2244.5L541.0 2244.6L541.5 2244.6L542.0 2244.5L542.5 2244.4L543.0 2244.3L543.5 2244.3L544.0 2244.3L544.5 2244.3L545.0 2244.4L545.5 2244.5L546.0 2244.7L546.5 2244.8L547.0 2245.0L547.5 2245.1L548.0 2245.2L548.5 2245.2L549.0 2245.2L549.5 2245.1L550.0 2244.9L550.5 2244.9L551.0 2244.9L551.5 2245.0L552.0 2245.2L552.5 2245.3L553.0 2245.3L553.5 2245.2L554.0 2245.1L554.5 2244.9L555.0 2244.7L555.5 2244.5L556.0 2244.1L556.5 2243.7L557.0 2243.3L557.5 2242.8L558.0 2242.4L558.5 2242.1L559.0 2241.9L559.3 2241.9L559.5 2241.9L560.0 2242.1L560.5 2242.5L561.0 2243.1L561.5 2243.6L562.0 2244.1L562.5 2244.4L563.0 2244.4L563.5 2244.2L564.0 2244.1L564.5 2244.0L565.0 2243.9L565.5 2244.0L566.0 2244.2L566.5 2244.5L567.0 2244.7L567.5 2244.8L568.0 2244.8L568.5 2244.8L569.0 2244.7L569.5 2244.7L570.0 2244.6L570.5 2244.6L571.0 2244.5L571.5 2244.5L572.0 2244.5L572.5 2244.6L573.0 2244.7L573.5 2244.7L574.0 2244.6L574.5 2244.5L575.0 2244.4L575.5 2244.3L576.0 2244.3L576.5 2244.3L577.0 2244.4L577.5 2244.5L578.0 2244.6L578.5 2244.7L579.0 2244.7L579.5 2244.6L580.0 2244.5L580.5 2244.3L581.0 2243.9L581.5 2243.4L582.0 2242.8L582.5 2242.3L583.0 2242.0L583.3 2241.9L583.5 2242.0L584.0 2242.3L584.5 2242.7L585.0 2243.1L585.5 2243.5L586.0 2243.7L586.5 2243.9L587.0 2244.0L587.5 2244.0L588.0 2244.0L588.5 2244.1L589.0 2244.2L589.5 2244.4L590.0 2244.6L590.5 2244.7L591.0 2244.7L591.5 2244.7L592.0 2244.6L592.5 2244.4L593.0 2244.3L593.5 2244.3L594.0 2244.3L594.5 2244.4L595.0 2244.5L595.5 2244.6L596.0 2244.7L596.5 2244.8L597.0 2244.8L597.5 2244.8L598.0 2244.9L598.5 2244.9L599.0 2244.9L599.5 2244.8L600.0 2244.8L600.5 2244.8L601.0 2244.8L601.5 2244.8L602.0 2244.9L602.5 2244.9L603.0 2244.8L603.5 2244.7L604.0 2244.6L604.5 2244.5L605.0 2244.6L605.5 2244.7L606.0 2244.7L606.5 2244.7L607.0 2244.7L607.5 2244.6L608.0 2244.5L608.5 2244.4L609.0 2244.3L609.5 2244.1L610.0 2244.0L610.5 2244.0L611.0 2244.1L611.5 2244.2L612.0 2244.3L612.5 2244.4L613.0 2244.4L613.5 2244.4L614.0 2244.4L614.5 2244.5L615.0 2244.6L615.5 2244.7L616.0 2244.8L616.5 2244.7L617.0 2244.7L617.5 2244.7L618.0 2244.6L618.5 2244.6L619.0 2244.6L619.5 2244.6L620.0 2244.6L620.5 2244.6L621.0 2244.6L621.5 2244.6L622.0 2244.6L622.5 2244.5L623.0 2244.4L623.5 2244.3L624.0 2244.2L624.5 2244.2L625.0 2244.2L625.5 2244.3L626.0 2244.4L626.5 2244.5L627.0 2244.5L627.5 2244.4L628.0 2244.3L628.5 2244.3L629.0 2244.2L629.5 2244.3L630.0 2244.4L630.5 2244.5L631.0 2244.5L631.5 2244.5L632.0 2244.5L632.5 2244.4L633.0 2244.5L633.5 2244.5L634.0 2244.5L634.5 2244.6L635.0 2244.6L635.5 2244.6L636.0 2244.7L636.5 2244.7L637.0 2244.7L637.5 2244.6L638.0 2244.5L638.5 2244.4L639.0 2244.3L639.5 2244.3L640.0 2244.2L640.5 2244.2L641.0 2244.3L641.5 2244.3L642.0 2244.4L642.5 2244.4L643.0 2244.4L643.5 2244.5L644.0 2244.5L644.5 2244.6L645.0 2244.6L645.5 2244.7L646.0 2244.6L646.5 2244.5L647.0 2244.3L647.5 2244.2L648.0 2244.2L648.5 2244.2L649.0 2244.2L649.5 2244.0L650.0 2243.8L650.5 2243.6L651.0 2243.3L651.5 2243.1L652.0 2243.0L652.5 2242.8L653.0 2242.7L653.3 2242.7L653.5 2242.7L654.0 2243.0L654.5 2243.3L655.0 2243.6L655.5 2243.8L656.0 2244.1L656.5 2244.3L657.0 2244.4L657.5 2244.4L658.0 2244.3L658.5 2244.1L659.0 2244.0L659.5 2243.9L660.0 2243.9L660.5 2244.0L661.0 2244.0L661.5 2244.0L662.0 2244.0L662.5 2244.0L663.0 2244.0L663.5 2244.0L664.0 2244.1L664.5 2244.1L665.0 2244.2L665.5 2244.3L666.0 2244.4L666.5 2244.4L667.0 2244.3L667.5 2244.2L668.0 2244.2L668.5 2244.2L669.0 2244.4L669.5 2244.5L670.0 2244.6L670.5 2244.5L671.0 2244.3L671.5 2244.2L672.0 2244.2L672.5 2244.2L673.0 2244.3L673.5 2244.3L674.0 2244.1L674.5 2243.8L675.0 2243.5L675.5 2243.0L676.0 2242.5L676.5 2242.2L676.7 2242.1L677.0 2242.1L677.5 2242.4L678.0 2242.8L678.5 2243.3L679.0 2243.8L679.5 2244.1L680.0 2244.4L680.5 2244.6L681.0 2244.7L681.5 2244.7L682.0 2244.7L682.5 2244.7L683.0 2244.7L683.5 2244.7L684.0 2244.6L684.5 2244.5L685.0 2244.5L685.5 2244.4L686.0 2244.3L686.5 2244.3L687.0 2244.3L687.5 2244.4L688.0 2244.5L688.5 2244.6L689.0 2244.7L689.5 2244.7L690.0 2244.7L690.5 2244.6L691.0 2244.6L691.5 2244.5L692.0 2244.5L692.5 2244.5L693.0 2244.5L693.5 2244.6L694.0 2244.5L694.5 2244.4L695.0 2244.3L695.5 2244.3L696.0 2244.3L696.5 2244.3L697.0 2244.4L697.5 2244.4L698.0 2244.4L698.5 2244.4L699.0 2244.5L699.5 2244.4L700.0 2244.4L700.5 2244.4L701.0 2244.5L701.5 2244.5L702.0 2244.5L702.5 2244.6L703.0 2244.6L703.5 2244.7L704.0 2244.7L704.5 2244.7L705.0 2244.6L705.5 2244.6L706.0 2244.7L706.5 2244.8L707.0 2244.8L707.5 2244.8L708.0 2244.6L708.5 2244.3L709.0 2244.1L709.5 2243.9L710.0 2243.8L710.5 2243.8L711.0 2243.8L711.5 2243.8L712.0 2243.9L712.5 2243.9L713.0 2243.9L713.5 2244.0L714.0 2244.1L714.5 2244.1L715.0 2244.1L715.5 2244.1L716.0 2244.2L716.5 2244.3L717.0 2244.4L717.5 2244.4L718.0 2244.5L718.5 2244.4L719.0 2244.1L719.5 2243.6L720.0 2242.9L720.5 2242.1L721.0 2241.3L721.5 2240.7L721.7 2240.6L722.0 2240.6L722.5 2241.1L723.0 2241.8L723.5 2242.7L724.0 2243.4L724.5 2244.0L725.0 2244.3L725.5 2244.5L726.0 2244.7L726.5 2244.7L727.0 2244.8L727.5 2244.8L728.0 2244.7L728.5 2244.6L729.0 2244.3L729.5 2244.0L730.0 2243.8L730.5 2243.7L731.0 2243.8L731.5 2243.8L732.0 2243.9L732.5 2243.9L733.0 2243.9L733.5 2243.8L734.0 2243.7L734.5 2243.7L735.0 2243.8L735.5 2243.9L736.0 2244.1L736.5 2244.1L737.0 2244.0L737.5 2243.7L738.0 2243.2L738.5 2242.7L739.0 2242.3L739.3 2242.1L739.5 2242.1L740.0 2242.3L740.5 2242.6L741.0 2242.9L741.5 2243.2L742.0 2243.4L742.5 2243.8L743.0 2244.1L743.5 2244.4L744.0 2244.5L744.5 2244.6L745.0 2244.6L745.5 2244.6L746.0 2244.5L746.5 2244.4L747.0 2244.4L747.5 2244.4L748.0 2244.4L748.5 2244.5L749.0 2244.5L749.5 2244.6L750.0 2244.5L750.5 2244.4L751.0 2244.3L751.5 2244.3L752.0 2244.3L752.5 2244.3L753.0 2244.3L753.5 2244.3L754.0 2244.3L754.5 2244.4L755.0 2244.4L755.5 2244.5L756.0 2244.6L756.5 2244.7L757.0 2244.8L757.5 2244.8L758.0 2244.7L758.5 2244.5L759.0 2244.3L759.5 2244.2L760.0 2244.2L760.5 2244.3L761.0 2244.4L761.5 2244.6L762.0 2244.7L762.5 2244.8L763.0 2244.9L763.5 2245.0L764.0 2244.9L764.5 2244.9L765.0 2244.8L765.5 2244.6L766.0 2244.6L766.5 2244.5L767.0 2244.5L767.5 2244.6L768.0 2244.6L768.5 2244.7L769.0 2244.8L769.5 2244.9L770.0 2244.8L770.5 2244.8L771.0 2244.8L771.5 2244.7L772.0 2244.7L772.5 2244.5L773.0 2244.0L773.5 2243.4L774.0 2242.7L774.5 2242.1L775.0 2241.7L775.5 2241.8L776.0 2242.3L776.5 2243.0L777.0 2243.7L777.5 2244.2L778.0 2244.5L778.5 2244.5L779.0 2244.5L779.5 2244.3L780.0 2244.1L780.5 2244.0L781.0 2244.0L781.5 2244.0L782.0 2244.0L782.5 2244.0L783.0 2243.9L783.5 2243.9L784.0 2243.9L784.5 2244.0L785.0 2244.2L785.5 2244.3L786.0 2244.3L786.5 2244.3L787.0 2244.2L787.5 2244.0L788.0 2243.4L788.5 2242.2L789.0 2239.4L789.5 2234.8L790.0 2229.5L790.5 2225.7L790.7 2225.2L791.0 2226.3L791.5 2230.5L792.0 2231.0L792.5 2235.6L793.0 2238.4L793.5 2239.8L794.0 2240.5L794.5 2241.0L795.0 2241.3L795.5 2241.6L796.0 2241.9L796.5 2242.1L797.0 2242.3L797.5 2242.5L798.0 2242.8L798.5 2243.1L799.0 2243.3L799.5 2243.6L800.0 2243.7L800.5 2243.9L801.0 2244.1L801.5 2244.2L802.0 2244.2L802.5 2244.2L803.0 2244.1L803.5 2244.0L804.0 2243.9L804.5 2243.9L805.0 2244.0L805.5 2244.1L806.0 2244.2L806.5 2244.3L807.0 2244.3L807.5 2244.3L808.0 2244.1L808.5 2243.8L809.0 2243.4L809.5 2242.9L810.0 2242.4L810.5 2241.8L811.0 2241.3L811.5 2241.0L811.7 2240.8L812.0 2240.8L812.5 2241.1L813.0 2241.6L813.5 2242.3L814.0 2242.9L814.5 2243.5L815.0 2243.9L815.5 2244.1L816.0 2244.3L816.5 2244.3L817.0 2244.3L817.5 2244.4L818.0 2244.4L818.5 2244.5L819.0 2244.6L819.5 2244.7L820.0 2244.9L820.5 2244.9L821.0 2244.8L821.5 2244.7L822.0 2244.5L822.5 2244.4L823.0 2244.4L823.5 2244.4L824.0 2244.4L824.5 2244.4L825.0 2244.4L825.5 2244.5L826.0 2244.6L826.5 2244.6L827.0 2244.6L827.5 2244.6L828.0 2244.6L828.5 2244.6L829.0 2244.7L829.5 2244.8L830.0 2244.8L830.5 2244.8L831.0 2244.5L831.5 2244.1L832.0 2243.5L832.5 2242.6L833.0 2241.3L833.5 2239.8L834.0 2238.3L834.5 2237.1L835.0 2236.6L835.5 2237.2L836.0 2238.3L836.5 2239.7L837.0 2241.1L837.5 2242.3L838.0 2243.1L838.5 2243.6L839.0 2243.9L839.5 2244.0L840.0 2244.0L840.5 2244.0L841.0 2244.0L841.5 2243.9L842.0 2243.7L842.5 2243.3L843.0 2242.7L843.5 2241.9L844.0 2241.0L844.5 2240.3L845.0 2240.1L845.5 2240.6L846.0 2241.4L846.5 2242.3L847.0 2243.1L847.5 2243.5L848.0 2243.7L848.5 2243.6L849.0 2243.4L849.5 2243.1L850.0 2242.8L850.5 2242.4L851.0 2242.0L851.5 2241.7L851.7 2241.6L852.0 2241.6L852.5 2241.8L853.0 2242.1L853.5 2242.5L854.0 2243.0L854.5 2243.4L855.0 2243.7L855.5 2243.9L856.0 2244.2L856.5 2244.3L857.0 2244.5L857.5 2244.6L858.0 2244.6L858.5 2244.4L859.0 2244.0L859.5 2243.5L860.0 2242.8L860.5 2241.1L861.0 2236.2L861.5 2225.3L862.0 2209.3L862.5 2196.5L862.7 2194.8L863.0 2198.5L863.5 2213.0L864.0 2228.5L864.5 2238.0L865.0 2242.0L865.5 2243.4L866.0 2243.9L866.5 2244.1L867.0 2244.3L867.5 2244.4L868.0 2244.5L868.5 2244.5L869.0 2244.4L869.5 2244.3L870.0 2244.2L870.5 2244.3L871.0 2244.4L871.5 2244.5L872.0 2244.5L872.5 2244.5L873.0 2244.5L873.5 2244.7L874.0 2244.8L874.5 2245.0L875.0 2245.1L875.5 2245.2L876.0 2245.2L876.5 2245.2L877.0 2245.1L877.5 2244.9L878.0 2244.7L878.5 2244.6L879.0 2244.4L879.5 2244.2L880.0 2244.1L880.5 2244.0L881.0 2243.9L881.5 2243.9L882.0 2244.0L882.5 2244.1L883.0 2244.2L883.5 2244.2L884.0 2244.3L884.5 2244.3L885.0 2244.2L885.5 2244.2L886.0 2244.2L886.5 2244.2L887.0 2244.2L887.5 2244.3L888.0 2244.4L888.5 2244.5L889.0 2244.6L889.5 2244.6L890.0 2244.7L890.5 2244.8L891.0 2244.9L891.5 2244.9L892.0 2244.8L892.5 2244.6L893.0 2244.4L893.5 2244.3L894.0 2244.1L894.5 2244.0L895.0 2243.9L895.5 2243.8L896.0 2243.6L896.5 2243.2L897.0 2242.7L897.5 2242.3L898.0 2241.9L898.3 2241.9L898.5 2242.0L899.0 2242.5L899.5 2243.1L900.0 2243.7L900.5 2244.1L901.0 2244.3L901.5 2244.4L902.0 2244.3L902.5 2244.3L903.0 2244.2L903.5 2244.2L904.0 2244.3L904.5 2244.3L905.0 2244.2L905.5 2244.1L906.0 2244.0L906.5 2243.9L907.0 2244.0L907.5 2244.0L908.0 2244.0L908.5 2244.0L909.0 2243.9L909.5 2243.7L910.0 2243.4L910.5 2243.1L911.0 2242.8L911.5 2242.4L912.0 2242.0L912.5 2241.6L913.0 2241.3L913.5 2241.1L914.0 2240.9L914.3 2240.7L914.5 2240.5L915.0 2240.3L915.5 2240.3L916.0 2240.4L916.5 2240.7L917.0 2241.2L917.5 2241.9L918.0 2242.6L918.5 2243.2L919.0 2243.7L919.5 2244.0L920.0 2244.2L920.5 2244.2L921.0 2244.2L921.5 2244.2L922.0 2244.1L922.5 2244.0L923.0 2244.0L923.5 2244.2L924.0 2244.5L924.5 2244.7L925.0 2244.7L925.5 2244.5L926.0 2243.9L926.5 2242.7L927.0 2241.0L927.5 2238.6L928.0 2235.9L928.5 2233.7L929.0 2232.7L929.5 2233.7L930.0 2235.9L930.5 2238.6L931.0 2240.8L931.5 2242.4L932.0 2243.3L932.5 2243.9L933.0 2244.2L933.5 2244.4L934.0 2244.4L934.5 2244.4L935.0 2244.5L935.5 2244.6L936.0 2244.6L936.5 2244.7L937.0 2244.7L937.5 2244.7L938.0 2244.7L938.5 2244.7L939.0 2244.6L939.5 2244.6L940.0 2244.5L940.5 2244.4L941.0 2244.4L941.5 2244.4L942.0 2244.4L942.5 2244.3L943.0 2244.3L943.5 2244.3L944.0 2244.3L944.5 2244.2L945.0 2243.9L945.5 2242.9L946.0 2240.1L946.5 2233.1L947.0 2219.2L947.5 2199.7L948.0 2182.9L948.3 2178.8L948.5 2180.8L949.0 2195.6L949.5 2215.4L950.0 2218.3L950.5 2227.2L951.0 2231.3L951.5 2233.1L952.0 2234.2L952.5 2235.0L953.0 2235.6L953.5 2236.2L954.0 2236.8L954.5 2237.4L955.0 2237.9L955.5 2238.4L956.0 2238.8L956.5 2239.0L957.0 2239.2L957.5 2239.4L958.0 2239.6L958.5 2239.9L959.0 2240.3L959.5 2240.7L960.0 2241.0L960.5 2241.2L961.0 2241.4L961.5 2241.6L962.0 2241.8L962.5 2241.9L963.0 2242.1L963.5 2242.3L964.0 2242.4L964.5 2242.6L965.0 2242.8L965.5 2243.0L966.0 2243.0L966.5 2243.0L967.0 2243.0L967.5 2243.1L968.0 2243.1L968.5 2243.1L969.0 2243.0L969.5 2242.9L970.0 2242.7L970.5 2242.4L971.0 2241.5L971.5 2238.4L972.0 2231.0L972.5 2219.0L973.0 2207.7L973.3 2205.0L973.5 2206.5L974.0 2216.7L974.5 2229.4L975.0 2237.9L975.5 2241.7L976.0 2243.0L976.5 2243.4L977.0 2243.7L977.5 2243.8L978.0 2243.9L978.5 2243.9L979.0 2243.8L979.5 2243.7L980.0 2243.7L980.5 2243.6L981.0 2243.5L981.5 2243.0L982.0 2240.8L982.5 2234.7L983.0 2222.8L983.5 2208.4L984.0 2200.8L984.5 2208.2L985.0 2222.3L985.5 2234.2L986.0 2240.4L986.5 2242.7L987.0 2243.4L987.5 2243.6L988.0 2243.7L988.5 2243.9L989.0 2244.0L989.5 2244.1L990.0 2244.2L990.5 2244.3L991.0 2244.3L991.5 2244.4L992.0 2244.4L992.5 2244.4L993.0 2244.4L993.5 2244.5L994.0 2244.5L994.5 2244.5L995.0 2244.5L995.5 2244.5L996.0 2244.4L996.5 2244.3L997.0 2244.2L997.5 2243.8L998.0 2243.4L998.5 2243.0L999.0 2242.5L999.5 2242.1L1000.0 2241.7L1000.5 2241.6L1001.0 2241.8L1001.5 2242.2L1002.0 2242.8L1002.5 2243.5L1003.0 2244.1L1003.5 2244.6L1004.0 2244.9L1004.5 2245.1L1005.0 2245.1L1005.5 2245.0L1006.0 2244.9L1006.5 2244.8L1007.0 2244.7L1007.5 2244.6L1008.0 2244.5L1008.5 2244.4L1009.0 2244.3L1009.5 2244.2L1010.0 2244.3L1010.5 2244.4L1011.0 2244.5L1011.5 2244.6L1012.0 2244.7L1012.5 2244.7L1013.0 2244.6L1013.5 2244.6L1014.0 2244.5L1014.5 2244.4L1015.0 2244.4L1015.5 2244.5L1016.0 2244.5L1016.5 2244.6L1017.0 2244.5L1017.5 2244.5L1018.0 2244.4L1018.5 2244.2L1019.0 2244.1L1019.5 2243.9L1020.0 2243.6L1020.5 2243.3L1021.0 2243.0L1021.5 2242.8L1021.7 2242.6L1022.0 2242.6L1022.5 2242.8L1023.0 2243.1L1023.5 2243.4L1024.0 2243.7L1024.5 2243.9L1025.0 2244.0L1025.5 2244.1L1026.0 2244.3L1026.5 2244.5L1027.0 2244.6L1027.5 2244.8L1028.0 2244.9L1028.5 2244.8L1029.0 2244.7L1029.5 2244.6L1030.0 2244.5L1030.5 2244.4L1031.0 2244.3L1031.5 2244.3L1032.0 2244.4L1032.5 2244.4L1033.0 2244.4L1033.5 2244.4L1034.0 2244.2L1034.5 2244.1L1035.0 2244.0L1035.5 2243.9L1036.0 2243.8L1036.5 2243.7L1037.0 2243.4L1037.5 2243.1L1037.7 2242.9L1038.0 2242.9L1038.5 2243.1L1039.0 2243.4L1039.5 2243.7L1040.0 2244.0L1040.5 2244.2L1041.0 2244.2L1041.5 2244.2L1042.0 2244.0L1042.5 2244.0L1043.0 2244.0L1043.5 2244.1L1044.0 2244.2L1044.5 2244.2L1045.0 2244.2L1045.5 2244.1L1046.0 2244.0L1046.5 2244.0L1047.0 2243.9L1047.5 2243.9L1048.0 2243.9L1048.5 2244.0L1049.0 2244.1L1049.5 2244.2L1050.0 2244.4L1050.5 2244.6L1051.0 2244.7L1051.5 2244.7L1052.0 2244.7L1052.5 2244.7L1053.0 2244.7L1053.5 2244.6L1054.0 2244.5L1054.5 2244.4L1055.0 2244.4L1055.5 2244.4L1056.0 2244.4L1056.5 2244.5L1057.0 2244.6L1057.5 2244.7L1058.0 2244.7L1058.5 2244.7L1059.0 2244.6L1059.5 2244.5L1060.0 2244.4L1060.5 2244.3L1061.0 2244.2L1061.5 2244.2L1062.0 2244.3L1062.5 2244.5L1063.0 2244.6L1063.5 2244.7L1064.0 2244.7L1064.5 2244.5L1065.0 2244.4L1065.5 2244.3L1066.0 2244.3L1066.5 2244.3L1067.0 2244.4L1067.5 2244.5L1068.0 2244.6L1068.5 2244.5L1069.0 2244.4L1069.5 2244.3L1070.0 2244.3L1070.5 2244.2L1071.0 2244.1L1071.5 2243.8L1072.0 2243.3L1072.5 2242.7L1073.0 2241.9L1073.5 2241.1L1074.0 2240.7L1074.5 2240.9L1075.0 2241.5L1075.5 2242.2L1076.0 2243.0L1076.5 2243.6L1077.0 2244.0L1077.5 2244.1L1078.0 2244.1L1078.5 2244.0L1079.0 2243.9L1079.5 2243.9L1080.0 2243.9L1080.5 2243.9L1081.0 2243.7L1081.5 2243.5L1082.0 2242.9L1082.5 2242.2L1083.0 2241.3L1083.5 2240.5L1084.0 2240.0L1084.5 2240.3L1085.0 2241.1L1085.5 2242.1L1086.0 2243.1L1086.5 2243.7L1087.0 2244.0L1087.5 2244.0L1088.0 2244.0L1088.5 2244.1L1089.0 2244.1L1089.5 2244.2L1090.0 2244.2L1090.5 2244.1L1091.0 2244.1L1091.5 2244.2L1092.0 2244.3L1092.5 2244.4L1093.0 2244.5L1093.5 2244.5L1094.0 2244.5L1094.5 2244.5L1095.0 2244.5L1095.5 2244.4L1096.0 2244.3L1096.5 2244.2L1097.0 2244.1L1097.5 2244.1L1098.0 2244.1L1098.5 2244.1L1099.0 2244.1L1099.5 2244.2L1100.0 2244.3L1100.5 2244.3L1101.0 2244.2L1101.5 2244.1L1102.0 2244.0L1102.5 2243.9L1103.0 2244.0L1103.5 2244.1L1104.0 2244.1L1104.5 2244.1L1105.0 2244.1L1105.5 2244.1L1106.0 2244.1L1106.5 2244.1L1107.0 2244.1L1107.5 2244.0L1108.0 2243.9L1108.5 2244.0L1109.0 2244.1L1109.5 2244.2L1110.0 2244.3L1110.5 2244.2L1111.0 2244.2L1111.5 2244.1L1112.0 2244.1L1112.5 2244.1L1113.0 2244.2L1113.5 2244.3L1114.0 2244.3L1114.5 2244.3L1115.0 2244.2L1115.5 2244.1L1116.0 2244.0L1116.5 2243.9L1117.0 2243.8L1117.5 2243.9L1118.0 2244.0L1118.5 2244.2L1119.0 2244.5L1119.5 2244.7L1120.0 2244.8L1120.5 2244.8L1121.0 2244.6L1121.5 2244.2L1122.0 2243.5L1122.5 2242.7L1123.0 2241.9L1123.5 2241.1L1124.0 2240.6L1124.3 2240.5L1124.5 2240.5L1125.0 2241.0L1125.5 2241.7L1126.0 2242.5L1126.5 2243.1L1127.0 2243.5L1127.5 2243.8L1128.0 2244.0L1128.5 2244.2L1129.0 2244.3L1129.5 2244.4L1130.0 2244.5L1130.5 2244.6L1131.0 2244.6L1131.5 2244.5L1132.0 2244.4L1132.5 2244.2L1133.0 2244.1L1133.5 2244.1L1134.0 2244.2L1134.5 2244.2L1135.0 2244.2L1135.5 2244.1L1136.0 2244.1L1136.5 2244.0L1137.0 2244.0L1137.5 2244.0L1138.0 2244.0L1138.5 2244.0L1139.0 2244.0L1139.5 2244.1L1140.0 2244.2L1140.5 2244.3L1141.0 2244.4L1141.5 2244.3L1142.0 2244.3L1142.5 2244.2L1143.0 2244.1L1143.5 2244.1L1144.0 2244.1L1144.5 2244.2L1145.0 2244.2L1145.5 2244.2L1146.0 2244.2L1146.5 2244.2L1147.0 2244.1L1147.5 2244.0L1148.0 2243.8L1148.5 2243.5L1149.0 2243.2L1149.5 2242.8L1150.0 2242.7L1150.5 2242.7L1151.0 2243.0L1151.5 2243.3L1152.0 2243.7L1152.5 2244.0L1153.0 2244.2L1153.5 2244.4L1154.0 2244.5L1154.5 2244.7L1155.0 2244.8L1155.5 2244.9L1156.0 2244.9L1156.5 2244.8L1157.0 2244.6L1157.5 2244.4L1158.0 2244.2L1158.5 2244.2L1159.0 2244.1L1159.5 2244.1L1160.0 2244.1L1160.5 2244.1L1161.0 2244.1L1161.5 2244.2L1162.0 2244.2L1162.5 2244.2L1163.0 2244.1L1163.5 2244.0L1164.0 2243.9L1164.5 2243.9L1165.0 2244.1L1165.5 2244.3L1166.0 2244.5L1166.5 2244.7L1167.0 2244.7L1167.5 2244.7L1168.0 2244.6L1168.5 2244.4L1169.0 2244.4L1169.5 2244.4L1170.0 2244.4L1170.5 2244.3L1171.0 2244.2L1171.5 2244.1L1172.0 2244.0L1172.5 2243.9L1173.0 2244.0L1173.5 2244.1L1174.0 2244.2L1174.5 2244.3L1175.0 2244.3L1175.5 2244.4L1176.0 2244.4L1176.5 2244.5L1177.0 2244.5L1177.5 2244.5L1178.0 2244.5L1178.5 2244.5L1179.0 2244.4L1179.5 2244.4L1180.0 2244.3L1180.5 2244.3L1181.0 2244.3L1181.5 2244.3L1182.0 2244.2L1182.5 2244.1L1183.0 2244.1L1183.5 2244.2L1184.0 2244.3L1184.5 2244.4L1185.0 2244.4L1185.5 2244.4L1186.0 2244.3L1186.5 2244.3L1187.0 2244.3L1187.5 2244.4L1188.0 2244.4L1188.5 2244.4L1189.0 2244.2L1189.5 2243.9L1190.0 2243.5L1190.5 2242.9L1191.0 2241.9L1191.5 2240.8L1192.0 2239.6L1192.5 2238.7L1192.7 2238.4L1193.0 2238.5L1193.5 2239.3L1194.0 2240.5L1194.5 2241.9L1195.0 2242.9L1195.5 2243.6L1196.0 2244.1L1196.5 2244.3L1197.0 2244.4L1197.5 2244.4L1198.0 2244.3L1198.5 2244.3L1199.0 2244.3L1199.5 2244.3L1200.0 2244.4L1200.5 2244.5L1201.0 2244.4L1201.5 2244.3L1202.0 2244.2L1202.5 2244.1L1203.0 2244.1L1203.5 2244.1L1204.0 2244.1L1204.5 2244.1L1205.0 2244.0L1205.5 2244.0L1206.0 2244.1L1206.5 2244.3L1207.0 2244.5L1207.5 2244.6L1208.0 2244.6L1208.5 2244.5L1209.0 2244.2L1209.5 2243.9L1210.0 2243.6L1210.5 2243.5L1211.0 2243.6L1211.5 2243.7L1212.0 2243.6L1212.5 2243.2L1213.0 2242.2L1213.5 2240.7L1214.0 2238.9L1214.5 2237.4L1215.0 2236.7L1215.5 2237.4L1216.0 2238.9L1216.5 2240.7L1217.0 2242.3L1217.5 2243.5L1218.0 2244.1L1218.5 2244.4L1219.0 2244.4L1219.5 2244.3L1220.0 2244.2L1220.5 2244.2L1221.0 2244.1L1221.5 2244.0L1222.0 2243.8L1222.5 2243.7L1223.0 2243.6L1223.5 2243.6L1224.0 2243.5L1224.5 2243.3L1225.0 2243.0L1225.5 2242.5L1226.0 2242.0L1226.5 2241.6L1226.7 2241.5L1227.0 2241.5L1227.5 2241.7L1228.0 2242.2L1228.5 2242.7L1229.0 2243.1L1229.5 2243.4L1230.0 2243.5L1230.5 2243.4L1231.0 2243.2L1231.5 2242.9L1232.0 2242.4L1232.5 2241.7L1233.0 2241.2L1233.3 2241.1L1233.5 2241.1L1234.0 2241.5L1234.5 2242.1L1235.0 2242.9L1235.5 2243.5L1236.0 2244.0L1236.5 2244.3L1237.0 2244.5L1237.5 2244.6L1238.0 2244.5L1238.5 2244.4L1239.0 2244.2L1239.5 2244.1L1240.0 2244.1L1240.5 2244.1L1241.0 2244.2L1241.5 2244.2L1242.0 2244.2L1242.5 2244.3L1243.0 2244.3L1243.5 2244.3L1244.0 2244.4L1244.5 2244.4L1245.0 2244.4L1245.5 2244.4L1246.0 2244.4L1246.5 2244.4L1247.0 2244.5L1247.5 2244.5L1248.0 2244.4L1248.5 2244.3L1249.0 2241.7L1249.5 2219.3L1250.0 2133.9L1250.5 2064.1L1251.0 1986.6L1251.5 1890.0L1252.0 1776.0L1252.5 1644.5L1252.7 1623.9L1253.0 1655.2L1253.5 1802.9L1254.0 1912.7L1254.5 2004.9L1255.0 2044.4L1255.5 2125.1L1256.0 2205.4L1256.5 2220.3L1257.0 2222.4L1257.5 2224.4L1258.0 2226.1L1258.5 2227.6L1259.0 2229.0L1259.5 2230.3L1260.0 2231.3L1260.5 2232.3L1261.0 2233.3L1261.5 2234.1L1262.0 2235.0L1262.5 2235.7L1263.0 2236.3L1263.5 2236.8L1264.0 2237.3L1264.5 2237.9L1265.0 2238.4L1265.5 2238.9L1266.0 2239.3L1266.5 2239.6L1267.0 2239.9L1267.5 2240.2L1268.0 2240.5L1268.5 2240.7L1269.0 2240.8L1269.5 2240.9L1270.0 2241.1L1270.5 2241.3L1271.0 2241.6L1271.5 2241.9L1272.0 2242.2L1272.5 2242.4L1273.0 2242.5L1273.5 2242.6L1274.0 2242.6L1274.5 2242.7L1275.0 2242.7L1275.5 2242.7L1276.0 2242.7L1276.5 2242.7L1277.0 2242.8L1277.5 2242.9L1278.0 2243.1L1278.5 2243.3L1279.0 2243.4L1279.5 2243.4L1280.0 2243.4L1280.5 2243.5L1281.0 2243.5L1281.5 2243.6L1282.0 2243.7L1282.5 2243.8L1283.0 2243.9L1283.5 2244.0L1284.0 2244.0L1284.5 2243.9L1285.0 2243.9L1285.5 2244.0L1286.0 2244.0L1286.5 2244.0L1287.0 2244.0L1287.5 2243.9L1288.0 2243.8L1288.5 2243.7L1289.0 2243.7L1289.5 2243.7L1290.0 2243.9L1290.5 2244.0L1291.0 2244.2L1291.5 2244.3L1292.0 2244.3L1292.5 2244.2L1293.0 2244.1L1293.5 2244.1L1294.0 2244.1L1294.5 2244.2L1295.0 2244.3L1295.5 2244.3L1296.0 2244.2L1296.5 2244.2L1297.0 2244.2L1297.5 2244.2L1298.0 2244.3L1298.5 2244.4L1299.0 2244.4L1299.5 2244.5L1300.0 2244.5L1300.5 2244.5L1301.0 2244.4L1301.5 2244.3L1302.0 2244.4L1302.5 2244.4L1303.0 2244.5L1303.5 2244.4L1304.0 2244.1L1304.5 2243.7L1305.0 2243.2L1305.5 2242.5L1306.0 2241.6L1306.5 2240.3L1307.0 2238.9L1307.5 2237.6L1308.0 2236.7L1308.3 2236.6L1308.5 2236.8L1309.0 2237.6L1309.5 2238.8L1310.0 2240.2L1310.5 2241.4L1311.0 2242.3L1311.5 2242.9L1312.0 2243.4L1312.5 2243.8L1313.0 2244.1L1313.5 2244.3L1314.0 2244.4L1314.5 2244.4L1315.0 2244.3L1315.5 2244.2L1316.0 2244.1L1316.5 2244.1L1317.0 2244.1L1317.5 2244.2L1318.0 2244.2L1318.5 2244.2L1319.0 2244.2L1319.5 2244.3L1320.0 2244.3L1320.5 2244.3L1321.0 2244.3L1321.5 2244.3L1322.0 2244.3L1322.5 2244.3L1323.0 2244.3L1323.5 2244.2L1324.0 2243.9L1324.5 2243.6L1325.0 2243.1L1325.5 2242.6L1326.0 2242.1L1326.5 2241.9L1326.7 2241.9L1327.0 2242.1L1327.5 2242.5L1328.0 2243.0L1328.5 2243.5L1329.0 2243.9L1329.5 2244.0L1330.0 2244.1L1330.5 2244.1L1331.0 2244.1L1331.5 2244.2L1332.0 2244.2L1332.5 2244.1L1333.0 2244.0L1333.5 2244.0L1334.0 2243.9L1334.5 2244.0L1335.0 2244.1L1335.5 2244.3L1336.0 2244.4L1336.5 2244.5L1337.0 2244.6L1337.5 2244.7L1338.0 2244.8L1338.5 2244.7L1339.0 2244.6L1339.5 2244.5L1340.0 2244.5L1340.5 2244.4L1341.0 2244.4L1341.5 2244.2L1342.0 2244.0L1342.5 2243.9L1343.0 2243.9L1343.5 2243.9L1344.0 2244.0L1344.5 2244.1L1345.0 2244.2L1345.5 2244.3L1346.0 2244.3L1346.5 2244.2L1347.0 2244.2L1347.5 2244.1L1348.0 2243.9L1348.5 2243.8L1349.0 2243.7L1349.5 2243.7L1350.0 2243.8L1350.5 2243.9L1351.0 2244.0L1351.5 2244.0L1352.0 2244.1L1352.5 2244.2L1353.0 2244.3L1353.5 2244.4L1354.0 2244.4L1354.5 2244.3L1355.0 2244.2L1355.5 2244.1L1356.0 2244.1L1356.5 2244.1L1357.0 2244.2L1357.5 2244.3L1358.0 2244.4" fill="none" stroke="#0a0a0a" stroke-width="2.9" stroke-linejoin="round"/>
<line x1="1254.4" y1="1632.0" x2="1252.9" y2="2000.0" stroke="#000" stroke-width="2.0"/>
<line x1="1252.9" y1="2000.0" x2="1252.8" y2="2190.0" stroke="#666" stroke-width="1.3"/>
<ellipse cx="314.3" cy="2182.3" rx="10.7" ry="12.3" fill="#000"/>
<ellipse cx="523.8" cy="2160.0" rx="10.2" ry="12.2" fill="#000"/>
<ellipse cx="787.7" cy="2211.7" rx="11.0" ry="12.0" fill="#000"/>
<ellipse cx="864.0" cy="2195.0" rx="10.7" ry="12.3" fill="#000"/>
<ellipse cx="946.7" cy="2179.0" rx="10.7" ry="12.3" fill="#000"/>
<ellipse cx="986.7" cy="2201.0" rx="10.5" ry="12.2" fill="#000"/>
<ellipse cx="1256.1" cy="1624.3" rx="11.2" ry="13.2" fill="#000"/>
<line x1="492.7" y1="2224.5" x2="492.7" y2="2229.0" stroke="#222" stroke-width="1.3"/>
<text transform="translate(326.3 2159.3) rotate(-90)" class="t" font-size="27.0" textLength="62.5" lengthAdjust="spacingAndGlyphs" fill="#000" stroke="#000" stroke-width="0.50">C16:0</text>
<text transform="translate(501.7 2217.0) rotate(-90)" class="t" font-size="21.5" textLength="55.2" lengthAdjust="spacingAndGlyphs" fill="#000" stroke="#000" stroke-width="0.15">C18:1</text>
<text transform="translate(534.6 2137.7) rotate(-90)" class="t" font-size="27.0" textLength="62.5" lengthAdjust="spacingAndGlyphs" fill="#000" stroke="#000" stroke-width="0.50">C18:0</text>
<text transform="translate(797.3 2189.3) rotate(-90)" class="t" font-size="27.0" textLength="63.1" lengthAdjust="spacingAndGlyphs" fill="#000" stroke="#000" stroke-width="0.50">C22:0</text>
<text transform="translate(874.6 2174.3) rotate(-90)" class="t" font-size="27.0" textLength="64.1" lengthAdjust="spacingAndGlyphs" fill="#000" stroke="#000" stroke-width="0.50">C23:0</text>
<text transform="translate(956.3 2157.0) rotate(-90)" class="t" font-size="27.0" textLength="47.8" lengthAdjust="spacingAndGlyphs" fill="#000" stroke="#000" stroke-width="0.50">MAG</text>
<text transform="translate(997.3 2178.3) rotate(-90)" class="t" font-size="27.0" textLength="63.1" lengthAdjust="spacingAndGlyphs" fill="#000" stroke="#000" stroke-width="0.50">C25:0</text>
<text transform="translate(1264.5 1602.7) rotate(-90)" class="t" font-size="24.5" textLength="19.0" lengthAdjust="spacingAndGlyphs" fill="#000" stroke="#000" stroke-width="0.50">IS</text>
<text transform="translate(941.0 1371.0) rotate(-90)" class="t" font-size="23.5" textLength="45.0" lengthAdjust="spacingAndGlyphs" fill="#000" stroke="#000" stroke-width="0.50">MAG</text>
<text x="122.5" y="2291.2" class="t" font-size="21.5" textLength="24.4" lengthAdjust="spacingAndGlyphs" fill="#444" stroke="#444" stroke-width="0.20">30</text>
<text x="325.3" y="2291.2" class="t" font-size="21.5" textLength="24.4" lengthAdjust="spacingAndGlyphs" fill="#444" stroke="#444" stroke-width="0.20">35</text>
<text x="529.1" y="2291.2" class="t" font-size="21.5" textLength="24.4" lengthAdjust="spacingAndGlyphs" fill="#444" stroke="#444" stroke-width="0.20">40</text>
<text x="732.8" y="2291.2" class="t" font-size="21.5" textLength="24.4" lengthAdjust="spacingAndGlyphs" fill="#444" stroke="#444" stroke-width="0.20">45</text>
<text x="937.3" y="2291.2" class="t" font-size="21.5" textLength="24.4" lengthAdjust="spacingAndGlyphs" fill="#444" stroke="#444" stroke-width="0.20">50</text>
<text x="1140.5" y="2291.2" class="t" font-size="21.5" textLength="24.4" lengthAdjust="spacingAndGlyphs" fill="#444" stroke="#444" stroke-width="0.20">55</text>
<text x="1344.1" y="2291.2" class="t" font-size="21.5" textLength="24.4" lengthAdjust="spacingAndGlyphs" fill="#444" stroke="#444" stroke-width="0.20">60</text>
<text x="572.7" y="2322.3" class="t" font-size="27.5" textLength="270.0" lengthAdjust="spacingAndGlyphs" fill="#000" word-spacing="5.0" stroke="#000" stroke-width="0.35">Retention time (min)</text>
</svg></body></html>
